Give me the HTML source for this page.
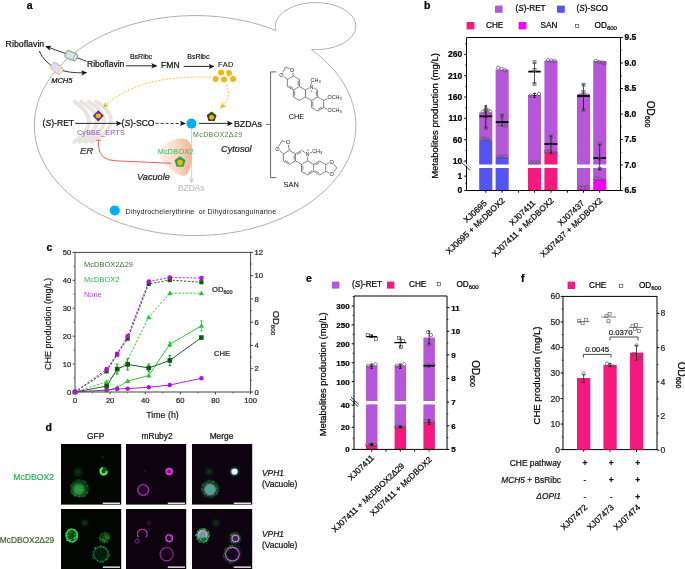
<!DOCTYPE html>
<html><head><meta charset="utf-8"><title>Figure</title>
<style>
html,body{margin:0;padding:0;background:#fff;width:685px;height:569px;overflow:hidden;}
svg{display:block;}
text{font-family:"Liberation Sans", Arial, sans-serif;}
</style></head><body>
<svg width="685" height="569" viewBox="0 0 685 569">
<defs>
<linearGradient id="vacg" x1="0" y1="0" x2="1" y2="0"><stop offset="0" stop-color="#fdf1ea"/><stop offset="0.5" stop-color="#f9dccb"/><stop offset="1" stop-color="#f2b492"/></linearGradient>
<marker id="ah" viewBox="0 0 10 10" refX="9" refY="5" markerWidth="6" markerHeight="6" orient="auto-start-reverse" markerUnits="userSpaceOnUse"><path d="M0,0.5 L10,5 L0,9.5 L2.5,5Z" fill="#111"/></marker>
<marker id="ahy" viewBox="0 0 10 10" refX="9" refY="5" markerWidth="6" markerHeight="6" orient="auto" markerUnits="userSpaceOnUse"><path d="M0,0.5 L10,5 L0,9.5 L2.5,5Z" fill="#f5b50e"/></marker>
<marker id="ahg" viewBox="0 0 10 10" refX="9" refY="5" markerWidth="5" markerHeight="5" orient="auto" markerUnits="userSpaceOnUse"><path d="M0,1 L9,5 L0,9" fill="none" stroke="#b5b5b5" stroke-width="1.4"/></marker>
</defs>
<text x="26.80" y="9.30" font-size="10.5" stroke="#000" stroke-width="0.22" font-weight="bold">a</text>
<path d="M311.4,49.6 A160.8,110 0 1,1 276,30.5 A40.3,23.6 0 1,1 311.4,49.6" fill="none" stroke="#9a9a9a" stroke-width="0.8"/>
<path d="M74.6,101.5 Q103.6,121.5 74.2,142" fill="none" stroke="#dcd8cf" stroke-width="3.4" stroke-linecap="round"/>
<path d="M81.2,101.5 Q113.7,121.5 79.4,142" fill="none" stroke="#dcd8cf" stroke-width="3.4" stroke-linecap="round"/>
<path d="M88.6,101.5 Q120.9,121.5 85.6,142" fill="none" stroke="#dcd8cf" stroke-width="3.4" stroke-linecap="round"/>
<path d="M96.1,101.5 Q128.1,121.5 91.7,142" fill="none" stroke="#dcd8cf" stroke-width="3.4" stroke-linecap="round"/>
<path d="M74.6,101.5 Q103.6,121.5 74.2,142" fill="none" stroke="#ebe8e2" stroke-width="2.4" stroke-linecap="round"/>
<path d="M81.2,101.5 Q113.7,121.5 79.4,142" fill="none" stroke="#ebe8e2" stroke-width="2.4" stroke-linecap="round"/>
<path d="M88.6,101.5 Q120.9,121.5 85.6,142" fill="none" stroke="#ebe8e2" stroke-width="2.4" stroke-linecap="round"/>
<path d="M96.1,101.5 Q128.1,121.5 91.7,142" fill="none" stroke="#ebe8e2" stroke-width="2.4" stroke-linecap="round"/>
<text x="5.60" y="47.00" font-size="8.8" stroke="#111" stroke-width="0.22" fill="#111">Riboflavin</text>
<path d="M86.5,61.3 Q66,53.5 45.8,46.4" fill="none" stroke="#222" stroke-width="0.9" marker-end="url(#ah)"/>
<path d="M39.2,51 Q50,75 86.5,72.6" fill="none" stroke="#222" stroke-width="0.9" marker-end="url(#ah)"/>
<g transform="translate(71.2,55.7) rotate(22)"><rect x="-6" y="-3.8" width="12" height="7.6" rx="2.2" fill="#d6e0f2" stroke="#5e9e3e" stroke-width="0.8"/><ellipse cx="4.6" cy="0" rx="1.5" ry="3.6" fill="#e8eef8" stroke="#5e9e3e" stroke-width="0.6"/></g>
<g transform="translate(56.8,68.2) rotate(38)"><rect x="-6" y="-3.9" width="12" height="7.8" rx="2.2" fill="#d6e0f2" stroke="#f3a577" stroke-width="0.8"/><ellipse cx="4.6" cy="0" rx="1.5" ry="3.7" fill="#e8eef8" stroke="#f3a577" stroke-width="0.6"/></g>
<text x="51.20" y="82.60" font-size="7.5" stroke="#111" stroke-width="0.22" fill="#111" font-style="italic">MCH5</text>
<text x="87.00" y="66.80" font-size="8.5" stroke="#111" stroke-width="0.22" fill="#111">Riboflavin</text>
<line x1="126.00" y1="65.80" x2="156.60" y2="65.80" stroke="#111" stroke-width="0.9" marker-end="url(#ah)"/>
<text x="141.00" y="59.00" font-size="7.0" text-anchor="middle" fill="#111" stroke="#111" stroke-width="0.18">BsRibc</text>
<text x="161.00" y="67.50" font-size="8.6" stroke="#111" stroke-width="0.22" fill="#111">FMN</text>
<line x1="183.60" y1="66.40" x2="214.00" y2="66.40" stroke="#111" stroke-width="0.9" marker-end="url(#ah)"/>
<text x="198.40" y="59.20" font-size="7.0" text-anchor="middle" fill="#111" stroke="#111" stroke-width="0.18">BsRibc</text>
<text x="218.00" y="66.80" font-size="7.3" fill="#111" letter-spacing="0.6" stroke="#111" stroke-width="0.12">FAD</text>
<circle cx="221.00" cy="72.40" r="3.00" fill="#f5b50e" />
<circle cx="229.00" cy="73.00" r="3.00" fill="#f5b50e" />
<circle cx="215.60" cy="79.00" r="3.00" fill="#f5b50e" />
<circle cx="224.00" cy="79.60" r="3.00" fill="#f5b50e" />
<circle cx="233.00" cy="79.00" r="3.00" fill="#f5b50e" />
<path d="M211,77.2 C168,75.5 128,83 103.4,107.4" fill="none" stroke="#f5b50e" stroke-width="0.8" stroke-dasharray="2,1.6" marker-end="url(#ahy)"/>
<path d="M226,84.5 C231,94 228,101 220.6,108" fill="none" stroke="#f5b50e" stroke-width="0.8" stroke-dasharray="2,1.6" marker-end="url(#ahy)"/>
<text x="42.60" y="126.20" font-size="8.6" stroke="#111" stroke-width="0.22" fill="#111">(<tspan font-style="italic">S</tspan>)-RET</text>
<line x1="75.20" y1="123.40" x2="121.30" y2="123.40" stroke="#111" stroke-width="0.9" marker-end="url(#ah)"/>
<path d="M98.3,110.2 L103.8,115.8 L98.3,121.4 L92.8,115.8Z" fill="#5a2a90"/>
<ellipse cx="98.3" cy="115.8" rx="2.7" ry="2.4" fill="#f5b50e"/>
<text x="121.60" y="125.60" font-size="8.6" stroke="#111" stroke-width="0.22" fill="#111">(<tspan font-style="italic">S</tspan>)-SCO</text>
<line x1="155.60" y1="123.40" x2="185.20" y2="123.40" stroke="#222" stroke-width="0.9" stroke-dasharray="3,2" marker-end="url(#ah)"/>
<circle cx="191.40" cy="123.60" r="5.00" fill="#05aeef" />
<line x1="199.00" y1="123.40" x2="232.20" y2="123.40" stroke="#111" stroke-width="0.9" marker-end="url(#ah)"/>
<text x="234.00" y="126.70" font-size="8.8" stroke="#111" stroke-width="0.22" fill="#111">BZDAs</text>
<polygon points="211.60,111.60 216.55,115.19 214.66,121.01 208.54,121.01 206.65,115.19" fill="#2f4a1f"/>
<circle cx="211.60" cy="117.30" r="2.40" fill="#f5b50e" />
<text x="193.00" y="136.50" font-size="7.0" fill="#4e7d36" letter-spacing="0.4">McDBOX2Δ29</text>
<text x="77.00" y="135.20" font-size="7.0" fill="#8650c0" letter-spacing="0.3">CyBBE_ERTS</text>
<text x="79.90" y="153.60" font-size="9.6" stroke="#333" stroke-width="0.22" fill="#333" font-style="italic">ER</text>
<path d="M181,138.5 C188.5,138 191.8,143 191.8,152 C191.8,162 190.5,172 186.5,175 C181.5,178 174,172.5 166,165.5 C160,160 156.5,153 160.5,148.5 C165.5,142.5 174,138.8 181,138.5Z" fill="url(#vacg)" />
<path d="M98.6,140.2 V146 Q99,160.5 116,160.8 L171,163.3" fill="none" stroke="#f04848" stroke-width="0.9" />
<line x1="96.20" y1="140.20" x2="101.00" y2="140.20" stroke="#ef4a4a" stroke-width="0.9" />
<text x="157.70" y="153.90" font-size="7.2" fill="#2ab85e" letter-spacing="0.3">McDBOX2</text>
<polygon points="180.00,156.20 185.52,160.21 183.41,166.69 176.59,166.69 174.48,160.21" fill="#1aaa4e"/>
<circle cx="180.00" cy="162.60" r="2.80" fill="#f5b50e" />
<text x="137.00" y="180.40" font-size="9.2" stroke="#222" stroke-width="0.22" fill="#222" font-style="italic">Vacuole</text>
<line x1="191.60" y1="128.80" x2="191.60" y2="182.50" stroke="#bdbdbd" stroke-width="0.7" marker-end="url(#ahg)"/>
<text x="178.00" y="190.60" font-size="8.4" stroke="#c4c4c4" stroke-width="0.22" fill="#c4c4c4">BZDAs</text>
<text x="221.00" y="152.00" font-size="9.2" stroke="#222" stroke-width="0.22" fill="#222" font-style="italic">Cytosol</text>
<path d="M276.2,71.9 H270.6 V177.6 H276.2 M270.6,124.4 H266" fill="none" stroke="#555" stroke-width="0.9"/>
<text x="296.50" y="119.30" font-size="7.4" text-anchor="middle">CHE</text>
<text x="291.20" y="187.30" font-size="7.4" text-anchor="middle">SAN</text>
<circle cx="114.80" cy="210.40" r="5.00" fill="#05aeef" />
<text x="125.60" y="213.80" font-size="7.1" fill="#222" letter-spacing="0.19">Dihydrochelerythrine&#160; or Dihydrosanguinarine</text>
<path d="M293.40,76.00 L299.46,79.50 M299.46,79.50 L299.46,86.50 M299.46,86.50 L293.40,90.00 M293.40,90.00 L287.34,86.50 M287.34,86.50 L287.34,79.50 M287.34,79.50 L293.40,76.00 M299.46,86.50 L305.52,90.00 M305.52,90.00 L305.52,97.00 M305.52,97.00 L299.46,100.50 M299.46,100.50 L293.40,97.00 M293.40,97.00 L293.40,90.00 M311.59,86.50 L317.65,90.00 M317.65,90.00 L317.65,97.00 M317.65,97.00 L311.59,100.50 M311.59,100.50 L305.52,97.00 M305.52,90.00 L311.59,86.50 M317.65,97.00 L323.71,100.50 M323.71,100.50 L323.71,107.50 M323.71,107.50 L317.65,111.00 M317.65,111.00 L311.59,107.50 M311.59,107.50 L311.59,100.50 M298.16,80.70 L298.16,85.30 M293.01,88.27 L289.03,85.97 M294.70,95.80 L294.70,91.20 M316.35,91.20 L316.35,95.80 M322.02,106.97 L318.04,109.27 M312.89,106.30 L312.89,101.70 M287.34,79.50 L281.44,74.50 M293.40,76.00 L291.90,69.60 M281.44,74.50 L285.50,67.00 M291.90,69.60 L285.50,67.00 M311.59,86.50 L311.59,82.50 M323.71,100.50 L327.71,98.20 M323.71,107.50 L327.71,109.80 " fill="none" stroke="#333" stroke-width="0.6"/>
<text x="281.44" y="76.50" font-size="5.6" text-anchor="middle" fill="#222" stroke="#fff" stroke-width="1.6" paint-order="stroke">O</text>
<text x="291.90" y="71.60" font-size="5.6" text-anchor="middle" fill="#222" stroke="#fff" stroke-width="1.6" paint-order="stroke">O</text>
<text x="311.59" y="88.50" font-size="5.6" text-anchor="middle" fill="#222" stroke="#fff" stroke-width="1.6" paint-order="stroke">N</text>
<text x="310.19" y="91.70" font-size="4.2" fill="#222">+</text>
<text x="310.59" y="81.90" font-size="5.4" fill="#222">CH<tspan font-size="4" dy="1">3</tspan></text>
<text x="327.51" y="99.30" font-size="5.4" fill="#222" stroke="#fff" stroke-width="1.2" paint-order="stroke">OCH<tspan font-size="4" dy="1">3</tspan></text>
<text x="327.51" y="111.90" font-size="5.4" fill="#222" stroke="#fff" stroke-width="1.2" paint-order="stroke">OCH<tspan font-size="4" dy="1">3</tspan></text>
<path d="M289.40,150.40 L295.46,153.90 M295.46,153.90 L295.46,160.90 M295.46,160.90 L289.40,164.40 M289.40,164.40 L283.34,160.90 M283.34,160.90 L283.34,153.90 M283.34,153.90 L289.40,150.40 M301.52,150.40 L307.59,153.90 M307.59,153.90 L307.59,160.90 M307.59,160.90 L301.52,164.40 M301.52,164.40 L295.46,160.90 M295.46,153.90 L301.52,150.40 M307.59,160.90 L313.65,164.40 M313.65,164.40 L313.65,171.40 M313.65,171.40 L307.59,174.90 M307.59,174.90 L301.52,171.40 M301.52,171.40 L301.52,164.40 M319.71,160.90 L325.77,164.40 M325.77,164.40 L325.77,171.40 M325.77,171.40 L319.71,174.90 M319.71,174.90 L313.65,171.40 M313.65,164.40 L319.71,160.90 M294.16,155.10 L294.16,159.70 M289.01,162.67 L285.03,160.37 M297.15,154.43 L301.14,152.13 M311.96,170.87 L307.98,173.17 M302.82,170.20 L302.82,165.60 M319.32,173.17 L315.34,170.87 M315.34,164.93 L319.32,162.63 M283.34,153.90 L277.34,148.70 M289.40,150.40 L287.90,142.40 M277.34,148.70 L282.00,140.80 M287.90,142.40 L282.00,140.80 M307.59,153.90 L311.79,152.30 M325.77,164.40 L331.57,161.80 M325.77,171.40 L331.57,174.00 M331.57,161.80 L336.90,167.90 M331.57,174.00 L336.90,167.90 " fill="none" stroke="#333" stroke-width="0.6"/>
<text x="277.34" y="150.70" font-size="5.6" text-anchor="middle" fill="#222" stroke="#fff" stroke-width="1.6" paint-order="stroke">O</text>
<text x="287.90" y="144.40" font-size="5.6" text-anchor="middle" fill="#222" stroke="#fff" stroke-width="1.6" paint-order="stroke">O</text>
<text x="331.57" y="163.80" font-size="5.6" text-anchor="middle" fill="#222" stroke="#fff" stroke-width="1.6" paint-order="stroke">O</text>
<text x="331.57" y="176.00" font-size="5.6" text-anchor="middle" fill="#222" stroke="#fff" stroke-width="1.6" paint-order="stroke">O</text>
<text x="307.59" y="155.90" font-size="5.6" text-anchor="middle" fill="#222" stroke="#fff" stroke-width="1.6" paint-order="stroke">N</text>
<text x="306.79" y="151.30" font-size="4.2" fill="#222">+</text>
<text x="312.19" y="153.30" font-size="5.4" fill="#222">CH<tspan font-size="4" dy="1">3</tspan></text>
<text x="424.00" y="8.60" font-size="10.5" stroke="#000" stroke-width="0.22" font-weight="bold">b</text>
<rect x="495.00" y="5.60" width="7.60" height="7.20" fill="#b557d8" />
<text x="515.60" y="11.10" font-size="8.2" stroke="#000" stroke-width="0.22">(<tspan font-style="italic">S</tspan>)-RET</text>
<rect x="557.00" y="5.60" width="7.80" height="7.20" fill="#5454f2" />
<text x="576.60" y="11.10" font-size="8.2" stroke="#000" stroke-width="0.22">(<tspan font-style="italic">S</tspan>)-SCO</text>
<rect x="466.60" y="22.00" width="7.80" height="7.40" fill="#f5187f" />
<text x="486.00" y="27.90" font-size="8.2" stroke="#000" stroke-width="0.22">CHE</text>
<rect x="518.60" y="22.00" width="7.80" height="7.40" fill="#fb00fb" />
<text x="540.60" y="27.90" font-size="8.2" stroke="#000" stroke-width="0.22">SAN</text>
<rect x="575.6" y="24.3" width="3.2" height="3.2" fill="none" stroke="#333" stroke-width="0.6"/>
<text x="594.60" y="27.90" font-size="8.2" stroke="#000" stroke-width="0.22">OD<tspan font-size="6" dy="2">600</tspan></text>
<rect x="479.20" y="168.00" width="13.10" height="22.50" fill="#5454f2" />
<rect x="479.20" y="140.00" width="13.10" height="24.50" fill="#5454f2" />
<rect x="479.20" y="112.40" width="13.10" height="27.60" fill="#b557d8" />
<rect x="495.60" y="168.00" width="13.10" height="22.50" fill="#5454f2" />
<rect x="495.60" y="157.00" width="13.10" height="7.50" fill="#5454f2" />
<rect x="495.60" y="69.60" width="13.10" height="87.40" fill="#b557d8" />
<rect x="528.00" y="168.00" width="13.10" height="22.50" fill="#f5187f" />
<rect x="528.00" y="95.00" width="13.10" height="69.50" fill="#b557d8" />
<rect x="544.40" y="168.00" width="13.10" height="22.50" fill="#f5187f" />
<rect x="544.40" y="152.00" width="13.10" height="12.50" fill="#f5187f" />
<rect x="544.40" y="60.60" width="13.10" height="91.40" fill="#b557d8" />
<rect x="577.00" y="168.00" width="13.10" height="20.60" fill="#b557d8" />
<rect x="577.00" y="188.60" width="13.10" height="1.90" fill="#fb00fb" />
<rect x="577.00" y="94.40" width="13.10" height="70.10" fill="#b557d8" />
<rect x="593.20" y="168.00" width="13.10" height="10.50" fill="#b557d8" />
<rect x="593.20" y="178.50" width="13.10" height="12.00" fill="#fb00fb" />
<rect x="593.20" y="61.00" width="13.10" height="103.50" fill="#b557d8" />
<path d="M466.5,164.8 V190.5 H620.5 V37.5 H466.5 V167.7" fill="none" stroke="#000" stroke-width="1"/>
<path d="M461.8,162.6 L470.2,170.4 M462.8,160.8 L471.2,168.6" stroke="#000" stroke-width="0.8" fill="none"/>
<path d="M462.6,162.3 L470.8,169.6 L471.2,168.6 L462.8,160.8Z" fill="#fff" stroke="none"/>
<line x1="464.20" y1="161.00" x2="466.50" y2="161.00" stroke="#000" stroke-width="1" />
<text x="462.20" y="163.90" font-size="8.5" stroke="#000" stroke-width="0.22" text-anchor="end" font-weight="bold">10</text>
<line x1="464.20" y1="139.68" x2="466.50" y2="139.68" stroke="#000" stroke-width="1" />
<text x="462.20" y="142.58" font-size="8.5" stroke="#000" stroke-width="0.22" text-anchor="end" font-weight="bold">60</text>
<line x1="464.20" y1="118.36" x2="466.50" y2="118.36" stroke="#000" stroke-width="1" />
<text x="462.20" y="121.26" font-size="8.5" stroke="#000" stroke-width="0.22" text-anchor="end" font-weight="bold">110</text>
<line x1="464.20" y1="97.04" x2="466.50" y2="97.04" stroke="#000" stroke-width="1" />
<text x="462.20" y="99.94" font-size="8.5" stroke="#000" stroke-width="0.22" text-anchor="end" font-weight="bold">160</text>
<line x1="464.20" y1="75.72" x2="466.50" y2="75.72" stroke="#000" stroke-width="1" />
<text x="462.20" y="78.62" font-size="8.5" stroke="#000" stroke-width="0.22" text-anchor="end" font-weight="bold">210</text>
<line x1="464.20" y1="54.40" x2="466.50" y2="54.40" stroke="#000" stroke-width="1" />
<text x="462.20" y="57.30" font-size="8.5" stroke="#000" stroke-width="0.22" text-anchor="end" font-weight="bold">260</text>
<line x1="465.20" y1="150.34" x2="466.50" y2="150.34" stroke="#000" stroke-width="0.8" />
<line x1="465.20" y1="129.02" x2="466.50" y2="129.02" stroke="#000" stroke-width="0.8" />
<line x1="465.20" y1="107.70" x2="466.50" y2="107.70" stroke="#000" stroke-width="0.8" />
<line x1="465.20" y1="86.38" x2="466.50" y2="86.38" stroke="#000" stroke-width="0.8" />
<line x1="465.20" y1="65.06" x2="466.50" y2="65.06" stroke="#000" stroke-width="0.8" />
<line x1="465.20" y1="43.74" x2="466.50" y2="43.74" stroke="#000" stroke-width="0.8" />
<line x1="464.20" y1="190.50" x2="466.50" y2="190.50" stroke="#000" stroke-width="1" />
<text x="462.20" y="193.40" font-size="8.5" stroke="#000" stroke-width="0.22" text-anchor="end" font-weight="bold">0</text>
<line x1="464.20" y1="176.10" x2="466.50" y2="176.10" stroke="#000" stroke-width="1" />
<text x="462.20" y="179.00" font-size="8.5" stroke="#000" stroke-width="0.22" text-anchor="end" font-weight="bold">1</text>
<line x1="465.20" y1="183.30" x2="466.50" y2="183.30" stroke="#000" stroke-width="0.8" />
<line x1="620.50" y1="190.50" x2="622.80" y2="190.50" stroke="#000" stroke-width="1" />
<text x="624.50" y="193.40" font-size="8.5" stroke="#000" stroke-width="0.22" font-weight="bold">6.5</text>
<line x1="620.50" y1="165.00" x2="622.80" y2="165.00" stroke="#000" stroke-width="1" />
<text x="624.50" y="167.90" font-size="8.5" stroke="#000" stroke-width="0.22" font-weight="bold">7.0</text>
<line x1="620.50" y1="139.50" x2="622.80" y2="139.50" stroke="#000" stroke-width="1" />
<text x="624.50" y="142.40" font-size="8.5" stroke="#000" stroke-width="0.22" font-weight="bold">7.5</text>
<line x1="620.50" y1="114.00" x2="622.80" y2="114.00" stroke="#000" stroke-width="1" />
<text x="624.50" y="116.90" font-size="8.5" stroke="#000" stroke-width="0.22" font-weight="bold">8.0</text>
<line x1="620.50" y1="88.50" x2="622.80" y2="88.50" stroke="#000" stroke-width="1" />
<text x="624.50" y="91.40" font-size="8.5" stroke="#000" stroke-width="0.22" font-weight="bold">8.5</text>
<line x1="620.50" y1="63.00" x2="622.80" y2="63.00" stroke="#000" stroke-width="1" />
<text x="624.50" y="65.90" font-size="8.5" stroke="#000" stroke-width="0.22" font-weight="bold">9.0</text>
<line x1="620.50" y1="37.50" x2="622.80" y2="37.50" stroke="#000" stroke-width="1" />
<text x="624.50" y="40.40" font-size="8.5" stroke="#000" stroke-width="0.22" font-weight="bold">9.5</text>
<line x1="620.50" y1="177.75" x2="621.80" y2="177.75" stroke="#000" stroke-width="0.8" />
<line x1="620.50" y1="152.25" x2="621.80" y2="152.25" stroke="#000" stroke-width="0.8" />
<line x1="620.50" y1="126.75" x2="621.80" y2="126.75" stroke="#000" stroke-width="0.8" />
<line x1="620.50" y1="101.25" x2="621.80" y2="101.25" stroke="#000" stroke-width="0.8" />
<line x1="620.50" y1="75.75" x2="621.80" y2="75.75" stroke="#000" stroke-width="0.8" />
<line x1="620.50" y1="50.25" x2="621.80" y2="50.25" stroke="#000" stroke-width="0.8" />
<line x1="485.80" y1="190.50" x2="485.80" y2="192.70" stroke="#000" stroke-width="1" />
<line x1="502.10" y1="190.50" x2="502.10" y2="192.70" stroke="#000" stroke-width="1" />
<line x1="518.50" y1="190.50" x2="518.50" y2="192.70" stroke="#000" stroke-width="1" />
<line x1="534.50" y1="190.50" x2="534.50" y2="192.70" stroke="#000" stroke-width="1" />
<line x1="551.00" y1="190.50" x2="551.00" y2="192.70" stroke="#000" stroke-width="1" />
<line x1="567.40" y1="190.50" x2="567.40" y2="192.70" stroke="#000" stroke-width="1" />
<line x1="583.50" y1="190.50" x2="583.50" y2="192.70" stroke="#000" stroke-width="1" />
<line x1="599.70" y1="190.50" x2="599.70" y2="192.70" stroke="#000" stroke-width="1" />
<text transform="translate(437.60,116.00) rotate(-90)" font-size="9.5" stroke="#000" stroke-width="0.22" text-anchor="middle">Metabolites production (mg/L)</text>
<text transform="translate(647.00,114.00) rotate(90)" font-size="10" stroke="#000" stroke-width="0.22" text-anchor="middle">OD<tspan font-size="7" dy="2">600</tspan></text>
<text transform="translate(487.30,203.80) rotate(-43.5)" font-size="8.4" stroke="#000" stroke-width="0.22" text-anchor="end">XJ0695</text>
<text transform="translate(505.50,201.30) rotate(-43.5)" font-size="8.4" stroke="#000" stroke-width="0.22" text-anchor="end">XJ0695 + McDBOX2</text>
<text transform="translate(536.00,203.80) rotate(-43.5)" font-size="8.4" stroke="#000" stroke-width="0.22" text-anchor="end">XJ07411</text>
<text transform="translate(554.40,201.30) rotate(-43.5)" font-size="8.4" stroke="#000" stroke-width="0.22" text-anchor="end">XJ07411 + McDBOX2</text>
<text transform="translate(585.00,203.80) rotate(-43.5)" font-size="8.4" stroke="#000" stroke-width="0.22" text-anchor="end">XJ07437</text>
<text transform="translate(603.10,201.30) rotate(-43.5)" font-size="8.4" stroke="#000" stroke-width="0.22" text-anchor="end">XJ07437 + McDBOX2</text>
<line x1="485.80" y1="106.00" x2="485.80" y2="117.50" stroke="#000" stroke-width="0.7" />
<line x1="484.60" y1="106.00" x2="487.00" y2="106.00" stroke="#000" stroke-width="0.7" />
<line x1="484.60" y1="117.50" x2="487.00" y2="117.50" stroke="#000" stroke-width="0.7" />
<line x1="484.30" y1="112.00" x2="487.30" y2="112.00" stroke="#000" stroke-width="0.8" />
<circle cx="482.80" cy="111.50" r="1.70" fill="none" stroke="#555" stroke-width="0.7" />
<circle cx="485.30" cy="110.80" r="1.70" fill="none" stroke="#555" stroke-width="0.7" />
<circle cx="487.80" cy="110.20" r="1.70" fill="none" stroke="#555" stroke-width="0.7" />
<circle cx="490.00" cy="111.50" r="1.70" fill="none" stroke="#555" stroke-width="0.7" />
<circle cx="482.80" cy="138.30" r="1.70" fill="none" stroke="#555" stroke-width="0.7" />
<circle cx="485.30" cy="139.20" r="1.70" fill="none" stroke="#555" stroke-width="0.7" />
<circle cx="487.80" cy="140.00" r="1.70" fill="none" stroke="#555" stroke-width="0.7" />
<line x1="485.80" y1="106.00" x2="485.80" y2="128.00" stroke="#000" stroke-width="0.7" />
<line x1="484.60" y1="106.00" x2="487.00" y2="106.00" stroke="#000" stroke-width="0.7" />
<line x1="484.60" y1="128.00" x2="487.00" y2="128.00" stroke="#000" stroke-width="0.7" />
<line x1="479.40" y1="116.30" x2="492.20" y2="116.30" stroke="#000" stroke-width="1.8" />
<rect x="484.30" y="126.50" width="3.0" height="3.0" fill="none" stroke="#555" stroke-width="0.7"/>
<rect x="484.30" y="108.00" width="3.0" height="3.0" fill="none" stroke="#555" stroke-width="0.7"/>
<circle cx="498.10" cy="67.70" r="1.70" fill="none" stroke="#555" stroke-width="0.7" />
<circle cx="501.60" cy="69.00" r="1.70" fill="none" stroke="#555" stroke-width="0.7" />
<circle cx="505.10" cy="70.30" r="1.70" fill="none" stroke="#555" stroke-width="0.7" />
<circle cx="498.60" cy="156.60" r="1.70" fill="none" stroke="#555" stroke-width="0.7" />
<circle cx="502.10" cy="156.60" r="1.70" fill="none" stroke="#555" stroke-width="0.7" />
<circle cx="505.60" cy="156.60" r="1.70" fill="none" stroke="#555" stroke-width="0.7" />
<line x1="502.10" y1="114.50" x2="502.10" y2="126.00" stroke="#000" stroke-width="0.7" />
<line x1="500.90" y1="114.50" x2="503.30" y2="114.50" stroke="#000" stroke-width="0.7" />
<line x1="500.90" y1="126.00" x2="503.30" y2="126.00" stroke="#000" stroke-width="0.7" />
<line x1="495.80" y1="122.10" x2="508.40" y2="122.10" stroke="#000" stroke-width="1.8" />
<rect x="500.60" y="114.20" width="3.0" height="3.0" fill="none" stroke="#555" stroke-width="0.7"/>
<rect x="498.60" y="123.00" width="3.0" height="3.0" fill="none" stroke="#555" stroke-width="0.7"/>
<rect x="504.20" y="124.00" width="3.0" height="3.0" fill="none" stroke="#555" stroke-width="0.7"/>
<circle cx="530.50" cy="95.60" r="1.70" fill="none" stroke="#555" stroke-width="0.7" />
<circle cx="534.50" cy="94.60" r="1.70" fill="none" stroke="#555" stroke-width="0.7" />
<circle cx="539.00" cy="94.00" r="1.70" fill="none" stroke="#555" stroke-width="0.7" />
<line x1="534.50" y1="93.50" x2="534.50" y2="97.50" stroke="#000" stroke-width="0.7" />
<line x1="533.30" y1="93.50" x2="535.70" y2="93.50" stroke="#000" stroke-width="0.7" />
<line x1="533.30" y1="97.50" x2="535.70" y2="97.50" stroke="#000" stroke-width="0.7" />
<line x1="533.30" y1="95.40" x2="535.70" y2="95.40" stroke="#000" stroke-width="0.8" />
<circle cx="531.00" cy="162.50" r="1.70" fill="none" stroke="#555" stroke-width="0.7" />
<circle cx="534.50" cy="162.50" r="1.70" fill="none" stroke="#555" stroke-width="0.7" />
<circle cx="538.00" cy="162.50" r="1.70" fill="none" stroke="#555" stroke-width="0.7" />
<line x1="534.50" y1="62.20" x2="534.50" y2="83.80" stroke="#000" stroke-width="0.7" />
<line x1="533.30" y1="62.20" x2="535.70" y2="62.20" stroke="#000" stroke-width="0.7" />
<line x1="533.30" y1="83.80" x2="535.70" y2="83.80" stroke="#000" stroke-width="0.7" />
<line x1="528.30" y1="71.60" x2="540.70" y2="71.60" stroke="#000" stroke-width="1.8" />
<rect x="533.00" y="60.70" width="3.0" height="3.0" fill="none" stroke="#555" stroke-width="0.7"/>
<rect x="533.00" y="68.50" width="3.0" height="3.0" fill="none" stroke="#555" stroke-width="0.7"/>
<rect x="533.00" y="82.30" width="3.0" height="3.0" fill="none" stroke="#555" stroke-width="0.7"/>
<circle cx="548.00" cy="60.20" r="1.70" fill="none" stroke="#555" stroke-width="0.7" />
<circle cx="551.50" cy="60.60" r="1.70" fill="none" stroke="#555" stroke-width="0.7" />
<circle cx="554.50" cy="61.00" r="1.70" fill="none" stroke="#555" stroke-width="0.7" />
<circle cx="546.00" cy="151.40" r="1.70" fill="none" stroke="#555" stroke-width="0.7" />
<circle cx="549.00" cy="152.00" r="1.70" fill="none" stroke="#555" stroke-width="0.7" />
<circle cx="552.00" cy="152.60" r="1.70" fill="none" stroke="#555" stroke-width="0.7" />
<circle cx="555.50" cy="152.80" r="1.70" fill="none" stroke="#555" stroke-width="0.7" />
<line x1="551.00" y1="136.00" x2="551.00" y2="153.00" stroke="#000" stroke-width="0.7" />
<line x1="549.80" y1="136.00" x2="552.20" y2="136.00" stroke="#000" stroke-width="0.7" />
<line x1="549.80" y1="153.00" x2="552.20" y2="153.00" stroke="#000" stroke-width="0.7" />
<line x1="544.50" y1="144.00" x2="557.50" y2="144.00" stroke="#000" stroke-width="1.8" />
<rect x="549.50" y="135.00" width="3.0" height="3.0" fill="none" stroke="#555" stroke-width="0.7"/>
<rect x="549.50" y="142.00" width="3.0" height="3.0" fill="none" stroke="#555" stroke-width="0.7"/>
<circle cx="580.00" cy="95.50" r="1.70" fill="none" stroke="#555" stroke-width="0.7" />
<circle cx="583.50" cy="94.00" r="1.70" fill="none" stroke="#555" stroke-width="0.7" />
<circle cx="587.50" cy="95.50" r="1.70" fill="none" stroke="#555" stroke-width="0.7" />
<line x1="583.50" y1="84.50" x2="583.50" y2="110.00" stroke="#000" stroke-width="0.7" />
<line x1="582.30" y1="84.50" x2="584.70" y2="84.50" stroke="#000" stroke-width="0.7" />
<line x1="582.30" y1="110.00" x2="584.70" y2="110.00" stroke="#000" stroke-width="0.7" />
<line x1="577.10" y1="96.00" x2="589.90" y2="96.00" stroke="#000" stroke-width="1.8" />
<rect x="582.00" y="83.20" width="3.0" height="3.0" fill="none" stroke="#555" stroke-width="0.7"/>
<rect x="582.00" y="90.50" width="3.0" height="3.0" fill="none" stroke="#555" stroke-width="0.7"/>
<rect x="582.00" y="108.50" width="3.0" height="3.0" fill="none" stroke="#555" stroke-width="0.7"/>
<circle cx="580.00" cy="187.20" r="1.70" fill="none" stroke="#555" stroke-width="0.7" />
<circle cx="583.50" cy="187.20" r="1.70" fill="none" stroke="#555" stroke-width="0.7" />
<circle cx="587.00" cy="187.20" r="1.70" fill="none" stroke="#555" stroke-width="0.7" />
<circle cx="595.70" cy="61.00" r="1.70" fill="none" stroke="#555" stroke-width="0.7" />
<circle cx="599.20" cy="62.00" r="1.70" fill="none" stroke="#555" stroke-width="0.7" />
<circle cx="602.70" cy="62.60" r="1.70" fill="none" stroke="#555" stroke-width="0.7" />
<circle cx="604.70" cy="63.40" r="1.70" fill="none" stroke="#555" stroke-width="0.7" />
<line x1="599.70" y1="144.40" x2="599.70" y2="169.50" stroke="#000" stroke-width="0.7" />
<line x1="598.50" y1="144.40" x2="600.90" y2="144.40" stroke="#000" stroke-width="0.7" />
<line x1="598.50" y1="169.50" x2="600.90" y2="169.50" stroke="#000" stroke-width="0.7" />
<line x1="593.40" y1="158.00" x2="606.00" y2="158.00" stroke="#000" stroke-width="1.8" />
<rect x="598.20" y="142.90" width="3.0" height="3.0" fill="none" stroke="#555" stroke-width="0.7"/>
<rect x="598.20" y="157.50" width="3.0" height="3.0" fill="none" stroke="#555" stroke-width="0.7"/>
<rect x="598.20" y="167.50" width="3.0" height="3.0" fill="none" stroke="#555" stroke-width="0.7"/>
<circle cx="596.20" cy="178.30" r="1.70" fill="none" stroke="#555" stroke-width="0.7" />
<circle cx="599.70" cy="179.00" r="1.70" fill="none" stroke="#555" stroke-width="0.7" />
<circle cx="603.70" cy="180.00" r="1.70" fill="none" stroke="#555" stroke-width="0.7" />
<text x="46.40" y="251.20" font-size="10.5" stroke="#000" stroke-width="0.22" font-weight="bold">c</text>
<rect x="75.0" y="252.4" width="175.6" height="139.6" fill="none" stroke="#444" stroke-width="1"/>
<line x1="72.60" y1="392.00" x2="75.00" y2="392.00" stroke="#444" stroke-width="1" />
<text x="71.20" y="394.70" font-size="7.6" stroke="#222" stroke-width="0.22" text-anchor="end" fill="#222">0</text>
<line x1="72.60" y1="364.08" x2="75.00" y2="364.08" stroke="#444" stroke-width="1" />
<text x="71.20" y="366.78" font-size="7.6" stroke="#222" stroke-width="0.22" text-anchor="end" fill="#222">10</text>
<line x1="72.60" y1="336.16" x2="75.00" y2="336.16" stroke="#444" stroke-width="1" />
<text x="71.20" y="338.86" font-size="7.6" stroke="#222" stroke-width="0.22" text-anchor="end" fill="#222">20</text>
<line x1="72.60" y1="308.24" x2="75.00" y2="308.24" stroke="#444" stroke-width="1" />
<text x="71.20" y="310.94" font-size="7.6" stroke="#222" stroke-width="0.22" text-anchor="end" fill="#222">30</text>
<line x1="72.60" y1="280.32" x2="75.00" y2="280.32" stroke="#444" stroke-width="1" />
<text x="71.20" y="283.02" font-size="7.6" stroke="#222" stroke-width="0.22" text-anchor="end" fill="#222">40</text>
<line x1="72.60" y1="252.40" x2="75.00" y2="252.40" stroke="#444" stroke-width="1" />
<text x="71.20" y="255.10" font-size="7.6" stroke="#222" stroke-width="0.22" text-anchor="end" fill="#222">50</text>
<line x1="73.60" y1="378.04" x2="75.00" y2="378.04" stroke="#444" stroke-width="0.8" />
<line x1="73.60" y1="350.12" x2="75.00" y2="350.12" stroke="#444" stroke-width="0.8" />
<line x1="73.60" y1="322.20" x2="75.00" y2="322.20" stroke="#444" stroke-width="0.8" />
<line x1="73.60" y1="294.28" x2="75.00" y2="294.28" stroke="#444" stroke-width="0.8" />
<line x1="73.60" y1="266.36" x2="75.00" y2="266.36" stroke="#444" stroke-width="0.8" />
<line x1="250.60" y1="392.00" x2="253.00" y2="392.00" stroke="#444" stroke-width="1" />
<text x="254.50" y="394.70" font-size="7.6" stroke="#222" stroke-width="0.22" fill="#222">0</text>
<line x1="250.60" y1="368.73" x2="253.00" y2="368.73" stroke="#444" stroke-width="1" />
<text x="254.50" y="371.43" font-size="7.6" stroke="#222" stroke-width="0.22" fill="#222">2</text>
<line x1="250.60" y1="345.47" x2="253.00" y2="345.47" stroke="#444" stroke-width="1" />
<text x="254.50" y="348.17" font-size="7.6" stroke="#222" stroke-width="0.22" fill="#222">4</text>
<line x1="250.60" y1="322.20" x2="253.00" y2="322.20" stroke="#444" stroke-width="1" />
<text x="254.50" y="324.90" font-size="7.6" stroke="#222" stroke-width="0.22" fill="#222">6</text>
<line x1="250.60" y1="298.93" x2="253.00" y2="298.93" stroke="#444" stroke-width="1" />
<text x="254.50" y="301.63" font-size="7.6" stroke="#222" stroke-width="0.22" fill="#222">8</text>
<line x1="250.60" y1="275.67" x2="253.00" y2="275.67" stroke="#444" stroke-width="1" />
<text x="254.50" y="278.37" font-size="7.6" stroke="#222" stroke-width="0.22" fill="#222">10</text>
<line x1="250.60" y1="252.40" x2="253.00" y2="252.40" stroke="#444" stroke-width="1" />
<text x="254.50" y="255.10" font-size="7.6" stroke="#222" stroke-width="0.22" fill="#222">12</text>
<line x1="250.60" y1="380.37" x2="252.00" y2="380.37" stroke="#444" stroke-width="0.8" />
<line x1="250.60" y1="357.10" x2="252.00" y2="357.10" stroke="#444" stroke-width="0.8" />
<line x1="250.60" y1="333.83" x2="252.00" y2="333.83" stroke="#444" stroke-width="0.8" />
<line x1="250.60" y1="310.57" x2="252.00" y2="310.57" stroke="#444" stroke-width="0.8" />
<line x1="250.60" y1="287.30" x2="252.00" y2="287.30" stroke="#444" stroke-width="0.8" />
<line x1="250.60" y1="264.03" x2="252.00" y2="264.03" stroke="#444" stroke-width="0.8" />
<line x1="75.00" y1="392.00" x2="75.00" y2="394.40" stroke="#444" stroke-width="1" />
<text x="75.00" y="402.90" font-size="7.6" stroke="#222" stroke-width="0.22" text-anchor="middle" fill="#222">0</text>
<line x1="110.11" y1="392.00" x2="110.11" y2="394.40" stroke="#444" stroke-width="1" />
<text x="110.11" y="402.90" font-size="7.6" stroke="#222" stroke-width="0.22" text-anchor="middle" fill="#222">20</text>
<line x1="145.22" y1="392.00" x2="145.22" y2="394.40" stroke="#444" stroke-width="1" />
<text x="145.22" y="402.90" font-size="7.6" stroke="#222" stroke-width="0.22" text-anchor="middle" fill="#222">40</text>
<line x1="180.34" y1="392.00" x2="180.34" y2="394.40" stroke="#444" stroke-width="1" />
<text x="180.34" y="402.90" font-size="7.6" stroke="#222" stroke-width="0.22" text-anchor="middle" fill="#222">60</text>
<line x1="215.45" y1="392.00" x2="215.45" y2="394.40" stroke="#444" stroke-width="1" />
<text x="215.45" y="402.90" font-size="7.6" stroke="#222" stroke-width="0.22" text-anchor="middle" fill="#222">80</text>
<line x1="250.56" y1="392.00" x2="250.56" y2="394.40" stroke="#444" stroke-width="1" />
<text x="250.56" y="402.90" font-size="7.6" stroke="#222" stroke-width="0.22" text-anchor="middle" fill="#222">100</text>
<line x1="92.56" y1="392.00" x2="92.56" y2="393.40" stroke="#444" stroke-width="0.8" />
<line x1="127.67" y1="392.00" x2="127.67" y2="393.40" stroke="#444" stroke-width="0.8" />
<line x1="162.78" y1="392.00" x2="162.78" y2="393.40" stroke="#444" stroke-width="0.8" />
<line x1="197.89" y1="392.00" x2="197.89" y2="393.40" stroke="#444" stroke-width="0.8" />
<line x1="233.00" y1="392.00" x2="233.00" y2="393.40" stroke="#444" stroke-width="0.8" />
<text x="162.50" y="418.20" font-size="8.8" stroke="#222" stroke-width="0.22" text-anchor="middle" fill="#222">Time (h)</text>
<text transform="translate(50.80,324.00) rotate(-90)" font-size="9.0" stroke="#222" stroke-width="0.22" text-anchor="middle" fill="#222">CHE production (mg/L)</text>
<text transform="translate(272.60,323.00) rotate(90)" font-size="9.4" stroke="#222" stroke-width="0.22" text-anchor="middle" fill="#222">OD<tspan font-size="6.2" dy="2">600</tspan></text>
<text x="84.00" y="267.00" font-size="7.4" fill="#3d6b2a" letter-spacing="0.1">McDBOX2Δ29</text>
<text x="84.00" y="282.30" font-size="7.4" fill="#22b84a" letter-spacing="0.1">McDBOX2</text>
<text x="84.00" y="297.30" font-size="7.4" fill="#cc33ee">None</text>
<text x="212.00" y="292.20" font-size="7.6" stroke="#222" stroke-width="0.22" fill="#222">OD<tspan font-size="5.5" dy="1.5">600</tspan></text>
<text x="214.00" y="356.00" font-size="7.6" stroke="#222" stroke-width="0.22" fill="#222">CHE</text>
<polyline points="75.00,392.00 106.60,381.95 117.13,372.46 127.67,359.89 148.74,317.17 169.80,293.16 201.40,293.16" fill="none" stroke="#1ec81e" stroke-width="0.95" stroke-dasharray="2.2,1.6"/>
<polyline points="75.00,392.00 106.60,371.34 117.13,354.59 127.67,338.67 148.74,283.95 169.80,280.04 201.40,282.27" fill="none" stroke="#0b5c0b" stroke-width="0.95" stroke-dasharray="2.2,1.6"/>
<polyline points="75.00,392.00 106.60,369.11 117.13,353.75 127.67,336.16 148.74,281.44 169.80,277.53 201.40,278.09" fill="none" stroke="#b40ee6" stroke-width="0.95" stroke-dasharray="2.2,1.6"/>
<polyline points="75.00,392.00 106.60,390.60 117.13,387.53 127.67,381.11 148.74,375.53 169.80,344.26 201.40,325.83" fill="none" stroke="#1ec81e" stroke-width="0.95"/>
<polyline points="75.00,392.00 106.60,386.14 117.13,369.11 127.67,364.36 148.74,367.99 169.80,360.45 201.40,337.56" fill="none" stroke="#0b5c0b" stroke-width="0.95"/>
<polyline points="75.00,392.00 106.60,390.05 117.13,388.93 127.67,388.65 148.74,387.25 169.80,385.02 201.40,378.32" fill="none" stroke="#b40ee6" stroke-width="0.95"/>
<line x1="117.13" y1="364.08" x2="117.13" y2="374.13" stroke="#0b5c0b" stroke-width="0.8" />
<line x1="115.83" y1="364.08" x2="118.43" y2="364.08" stroke="#0b5c0b" stroke-width="0.8" />
<line x1="115.83" y1="374.13" x2="118.43" y2="374.13" stroke="#0b5c0b" stroke-width="0.8" />
<line x1="127.67" y1="358.78" x2="127.67" y2="369.94" stroke="#0b5c0b" stroke-width="0.8" />
<line x1="126.37" y1="358.78" x2="128.97" y2="358.78" stroke="#0b5c0b" stroke-width="0.8" />
<line x1="126.37" y1="369.94" x2="128.97" y2="369.94" stroke="#0b5c0b" stroke-width="0.8" />
<line x1="148.74" y1="364.08" x2="148.74" y2="371.90" stroke="#0b5c0b" stroke-width="0.8" />
<line x1="147.44" y1="364.08" x2="150.04" y2="364.08" stroke="#0b5c0b" stroke-width="0.8" />
<line x1="147.44" y1="371.90" x2="150.04" y2="371.90" stroke="#0b5c0b" stroke-width="0.8" />
<line x1="169.80" y1="355.42" x2="169.80" y2="365.48" stroke="#0b5c0b" stroke-width="0.8" />
<line x1="168.50" y1="355.42" x2="171.10" y2="355.42" stroke="#0b5c0b" stroke-width="0.8" />
<line x1="168.50" y1="365.48" x2="171.10" y2="365.48" stroke="#0b5c0b" stroke-width="0.8" />
<line x1="201.40" y1="320.80" x2="201.40" y2="330.86" stroke="#1ec81e" stroke-width="0.8" />
<line x1="200.10" y1="320.80" x2="202.70" y2="320.80" stroke="#1ec81e" stroke-width="0.8" />
<line x1="200.10" y1="330.86" x2="202.70" y2="330.86" stroke="#1ec81e" stroke-width="0.8" />
<line x1="169.80" y1="342.02" x2="169.80" y2="346.49" stroke="#1ec81e" stroke-width="0.8" />
<line x1="168.50" y1="342.02" x2="171.10" y2="342.02" stroke="#1ec81e" stroke-width="0.8" />
<line x1="168.50" y1="346.49" x2="171.10" y2="346.49" stroke="#1ec81e" stroke-width="0.8" />
<path d="M75.00,389.25 L77.53,393.98 L72.47,393.98Z" fill="#1ec81e"/>
<path d="M106.60,379.20 L109.13,383.93 L104.07,383.93Z" fill="#1ec81e"/>
<path d="M148.74,314.42 L151.27,319.15 L146.21,319.15Z" fill="#1ec81e"/>
<path d="M169.80,290.41 L172.33,295.14 L167.27,295.14Z" fill="#1ec81e"/>
<path d="M201.40,290.41 L203.93,295.14 L198.87,295.14Z" fill="#1ec81e"/>
<path d="M75.00,389.25 L77.53,393.98 L72.47,393.98Z" fill="#1ec81e"/>
<path d="M106.60,387.85 L109.13,392.58 L104.07,392.58Z" fill="#1ec81e"/>
<path d="M117.13,384.78 L119.66,389.51 L114.60,389.51Z" fill="#1ec81e"/>
<path d="M127.67,378.36 L130.20,383.09 L125.14,383.09Z" fill="#1ec81e"/>
<path d="M148.74,372.78 L151.27,377.51 L146.21,377.51Z" fill="#1ec81e"/>
<path d="M169.80,341.51 L172.33,346.24 L167.27,346.24Z" fill="#1ec81e"/>
<path d="M201.40,323.08 L203.93,327.81 L198.87,327.81Z" fill="#1ec81e"/>
<rect x="72.90" y="389.90" width="4.20" height="4.20" fill="#0b5c0b" />
<rect x="104.50" y="369.24" width="4.20" height="4.20" fill="#0b5c0b" />
<rect x="115.03" y="352.49" width="4.20" height="4.20" fill="#0b5c0b" />
<rect x="125.57" y="336.57" width="4.20" height="4.20" fill="#0b5c0b" />
<rect x="146.64" y="281.85" width="4.20" height="4.20" fill="#0b5c0b" />
<rect x="167.70" y="277.94" width="4.20" height="4.20" fill="#0b5c0b" />
<rect x="199.30" y="280.17" width="4.20" height="4.20" fill="#0b5c0b" />
<rect x="72.70" y="389.70" width="4.60" height="4.60" fill="#0b5c0b" />
<rect x="104.30" y="383.84" width="4.60" height="4.60" fill="#0b5c0b" />
<rect x="114.83" y="366.81" width="4.60" height="4.60" fill="#0b5c0b" />
<rect x="125.37" y="362.06" width="4.60" height="4.60" fill="#0b5c0b" />
<rect x="146.44" y="365.69" width="4.60" height="4.60" fill="#0b5c0b" />
<rect x="167.50" y="358.15" width="4.60" height="4.60" fill="#0b5c0b" />
<rect x="199.10" y="335.26" width="4.60" height="4.60" fill="#0b5c0b" />
<circle cx="75.00" cy="392.00" r="2.30" fill="#b40ee6" />
<circle cx="106.60" cy="369.11" r="2.30" fill="#b40ee6" />
<circle cx="117.13" cy="353.75" r="2.30" fill="#b40ee6" />
<circle cx="127.67" cy="336.16" r="2.30" fill="#b40ee6" />
<circle cx="148.74" cy="281.44" r="2.30" fill="#b40ee6" />
<circle cx="169.80" cy="277.53" r="2.30" fill="#b40ee6" />
<circle cx="201.40" cy="278.09" r="2.30" fill="#b40ee6" />
<circle cx="75.00" cy="392.00" r="2.20" fill="#b40ee6" />
<circle cx="106.60" cy="390.05" r="2.20" fill="#b40ee6" />
<circle cx="117.13" cy="388.93" r="2.20" fill="#b40ee6" />
<circle cx="127.67" cy="388.65" r="2.20" fill="#b40ee6" />
<circle cx="148.74" cy="387.25" r="2.20" fill="#b40ee6" />
<circle cx="169.80" cy="385.02" r="2.20" fill="#b40ee6" />
<circle cx="201.40" cy="378.32" r="2.20" fill="#b40ee6" />
<text x="45.60" y="430.50" font-size="10.5" stroke="#000" stroke-width="0.22" font-weight="bold">d</text>
<text x="95.70" y="439.30" font-size="8.4" stroke="#111" stroke-width="0.22" text-anchor="middle" fill="#111">GFP</text>
<text x="157.00" y="439.30" font-size="8.4" stroke="#111" stroke-width="0.22" text-anchor="middle" fill="#111">mRuby2</text>
<text x="221.50" y="439.30" font-size="8.4" stroke="#111" stroke-width="0.22" text-anchor="middle" fill="#111">Merge</text>
<text x="54.20" y="479.80" font-size="8.7" stroke="#22b856" stroke-width="0.22" text-anchor="end" fill="#22b856">McDBOX2</text>
<text x="54.20" y="543.20" font-size="8.4" stroke="#3f6b2c" stroke-width="0.22" text-anchor="end" fill="#3f6b2c">McDBOX2Δ29</text>
<text x="262.00" y="476.00" font-size="8.4" stroke="#111" stroke-width="0.22" fill="#111" font-style="italic">VPH1</text>
<text x="262.00" y="487.00" font-size="8.4" stroke="#111" stroke-width="0.22" fill="#111">(Vacuole)</text>
<text x="262.00" y="536.80" font-size="8.4" stroke="#111" stroke-width="0.22" fill="#111" font-style="italic">VPH1</text>
<text x="262.00" y="547.80" font-size="8.4" stroke="#111" stroke-width="0.22" fill="#111">(Vacuole)</text>
<defs>
<filter id="bl1" x="-50%" y="-50%" width="200%" height="200%"><feGaussianBlur stdDeviation="0.45"/></filter>
<filter id="bl3" x="-50%" y="-50%" width="200%" height="200%"><feGaussianBlur stdDeviation="0.7"/></filter>
<filter id="bl4" x="-50%" y="-50%" width="200%" height="200%"><feGaussianBlur stdDeviation="1.1"/></filter>
<filter id="bl2" x="-50%" y="-50%" width="200%" height="200%"><feGaussianBlur stdDeviation="1.0"/></filter>
<radialGradient id="gfill" cx="50%" cy="50%" r="50%"><stop offset="0" stop-color="#1f8a2e"/><stop offset="0.75" stop-color="#17702a"/><stop offset="1" stop-color="#0a3a12" stop-opacity="0"/></radialGradient>
<radialGradient id="gfaint" cx="50%" cy="50%" r="50%"><stop offset="0" stop-color="#0e3a14"/><stop offset="1" stop-color="#0e3a14" stop-opacity="0"/></radialGradient>
<radialGradient id="mfaint" cx="50%" cy="50%" r="50%"><stop offset="0" stop-color="#3a0a3a"/><stop offset="1" stop-color="#3a0a3a" stop-opacity="0"/></radialGradient>
<radialGradient id="mgfill" cx="50%" cy="50%" r="50%"><stop offset="0" stop-color="#3d9a80"/><stop offset="1" stop-color="#2f8a6a"/></radialGradient>
</defs>
<rect x="61.00" y="444.00" width="60.20" height="60.60" fill="#020502" />
<rect x="126.00" y="444.00" width="60.20" height="60.60" fill="#0d020e" />
<rect x="192.00" y="444.00" width="60.20" height="60.60" fill="#0e0410" />
<rect x="61.00" y="509.00" width="60.20" height="60.50" fill="#020502" />
<rect x="126.00" y="509.00" width="60.20" height="60.50" fill="#0d020e" />
<rect x="192.00" y="509.00" width="60.20" height="60.50" fill="#0e0410" />
<ellipse cx="78.00" cy="472.00" rx="6.50" ry="6.50" fill="url(#gfaint)" opacity="1.0" filter="url(#bl1)"/>
<ellipse cx="102.70" cy="457.00" rx="2.60" ry="2.60" fill="url(#gfaint)" opacity="0.6" filter="url(#bl1)"/>
<circle cx="79.5" cy="488.5" r="9.2" fill="#0b3a13" opacity="0.9" filter="url(#bl3)"/>
<circle cx="78.8" cy="489.5" r="6.0" fill="#23903a" filter="url(#bl4)"/>
<g filter="url(#bl3)"><circle cx="78.61" cy="490.19" r="0.70" fill="#3ac04a" opacity="0.22"/><circle cx="76.75" cy="488.44" r="0.52" fill="#3ac04a" opacity="0.35"/><circle cx="82.01" cy="489.67" r="0.52" fill="#3ac04a" opacity="0.23"/><circle cx="74.71" cy="491.31" r="0.54" fill="#3ac04a" opacity="0.27"/><circle cx="75.22" cy="484.90" r="0.67" fill="#3ac04a" opacity="0.32"/><circle cx="79.95" cy="488.89" r="0.76" fill="#3ac04a" opacity="0.29"/><circle cx="79.91" cy="489.90" r="0.59" fill="#3ac04a" opacity="0.44"/><circle cx="80.76" cy="492.35" r="0.69" fill="#3ac04a" opacity="0.31"/><circle cx="78.39" cy="488.75" r="0.52" fill="#3ac04a" opacity="0.26"/><circle cx="77.99" cy="486.42" r="0.59" fill="#3ac04a" opacity="0.38"/><circle cx="77.14" cy="489.62" r="0.74" fill="#3ac04a" opacity="0.41"/><circle cx="79.34" cy="492.66" r="0.66" fill="#3ac04a" opacity="0.46"/><circle cx="78.93" cy="486.93" r="0.79" fill="#3ac04a" opacity="0.24"/><circle cx="75.14" cy="491.30" r="0.55" fill="#3ac04a" opacity="0.35"/><circle cx="83.25" cy="490.02" r="0.73" fill="#3ac04a" opacity="0.37"/><circle cx="80.78" cy="487.43" r="0.71" fill="#3ac04a" opacity="0.38"/><circle cx="76.56" cy="487.55" r="0.75" fill="#3ac04a" opacity="0.48"/><circle cx="75.10" cy="489.67" r="0.52" fill="#3ac04a" opacity="0.41"/><circle cx="75.61" cy="484.24" r="0.75" fill="#3ac04a" opacity="0.29"/><circle cx="76.05" cy="491.75" r="0.51" fill="#3ac04a" opacity="0.34"/><circle cx="79.76" cy="490.00" r="0.52" fill="#3ac04a" opacity="0.43"/><circle cx="80.48" cy="490.35" r="0.62" fill="#3ac04a" opacity="0.46"/><circle cx="81.80" cy="490.44" r="0.66" fill="#3ac04a" opacity="0.47"/><circle cx="81.41" cy="484.24" r="0.58" fill="#3ac04a" opacity="0.32"/><circle cx="75.81" cy="493.16" r="0.79" fill="#3ac04a" opacity="0.25"/><circle cx="79.99" cy="490.59" r="0.57" fill="#3ac04a" opacity="0.35"/><circle cx="77.55" cy="487.97" r="0.50" fill="#3ac04a" opacity="0.33"/><circle cx="76.74" cy="491.65" r="0.79" fill="#3ac04a" opacity="0.41"/><circle cx="75.32" cy="488.62" r="0.70" fill="#3ac04a" opacity="0.22"/><circle cx="83.07" cy="486.17" r="0.76" fill="#3ac04a" opacity="0.44"/><circle cx="77.10" cy="490.69" r="0.53" fill="#3ac04a" opacity="0.39"/><circle cx="80.00" cy="489.33" r="0.56" fill="#3ac04a" opacity="0.25"/><circle cx="78.78" cy="489.67" r="0.50" fill="#3ac04a" opacity="0.25"/><circle cx="81.21" cy="490.49" r="0.51" fill="#3ac04a" opacity="0.46"/><circle cx="78.21" cy="488.13" r="0.58" fill="#3ac04a" opacity="0.30"/></g>
<g filter="url(#bl3)"><circle cx="74.34" cy="494.41" r="0.56" fill="#30b844" opacity="0.70"/><circle cx="71.13" cy="490.32" r="0.37" fill="#30b844" opacity="0.34"/><circle cx="75.03" cy="495.29" r="0.56" fill="#30b844" opacity="0.36"/><circle cx="88.90" cy="489.87" r="0.48" fill="#30b844" opacity="0.36"/><circle cx="72.13" cy="486.45" r="0.48" fill="#30b844" opacity="0.69"/><circle cx="85.38" cy="481.69" r="0.42" fill="#30b844" opacity="0.45"/><circle cx="84.05" cy="496.43" r="0.48" fill="#30b844" opacity="0.61"/><circle cx="75.64" cy="495.56" r="0.55" fill="#30b844" opacity="0.69"/><circle cx="85.04" cy="481.14" r="0.55" fill="#30b844" opacity="0.60"/><circle cx="80.76" cy="497.04" r="0.44" fill="#30b844" opacity="0.31"/><circle cx="87.53" cy="489.92" r="0.41" fill="#30b844" opacity="0.58"/><circle cx="87.68" cy="486.21" r="0.58" fill="#30b844" opacity="0.70"/><circle cx="87.50" cy="486.18" r="0.41" fill="#30b844" opacity="0.39"/><circle cx="82.13" cy="496.06" r="0.51" fill="#30b844" opacity="0.66"/><circle cx="84.11" cy="481.29" r="0.51" fill="#30b844" opacity="0.62"/><circle cx="87.19" cy="493.03" r="0.58" fill="#30b844" opacity="0.61"/><circle cx="79.51" cy="479.94" r="0.39" fill="#30b844" opacity="0.62"/><circle cx="74.94" cy="496.49" r="0.59" fill="#30b844" opacity="0.46"/><circle cx="71.77" cy="494.01" r="0.53" fill="#30b844" opacity="0.37"/><circle cx="85.02" cy="494.16" r="0.58" fill="#30b844" opacity="0.62"/><circle cx="85.12" cy="495.85" r="0.60" fill="#30b844" opacity="0.56"/><circle cx="74.37" cy="495.52" r="0.38" fill="#30b844" opacity="0.31"/><circle cx="88.25" cy="486.88" r="0.48" fill="#30b844" opacity="0.67"/><circle cx="70.95" cy="492.27" r="0.56" fill="#30b844" opacity="0.38"/><circle cx="79.41" cy="496.69" r="0.41" fill="#30b844" opacity="0.53"/><circle cx="79.00" cy="496.92" r="0.38" fill="#30b844" opacity="0.66"/><circle cx="74.33" cy="495.27" r="0.50" fill="#30b844" opacity="0.66"/><circle cx="71.21" cy="493.01" r="0.48" fill="#30b844" opacity="0.51"/><circle cx="71.95" cy="487.38" r="0.46" fill="#30b844" opacity="0.37"/><circle cx="88.70" cy="488.73" r="0.39" fill="#30b844" opacity="0.49"/><circle cx="78.15" cy="479.89" r="0.43" fill="#30b844" opacity="0.51"/><circle cx="70.88" cy="485.37" r="0.38" fill="#30b844" opacity="0.52"/><circle cx="79.58" cy="496.65" r="0.54" fill="#30b844" opacity="0.50"/><circle cx="71.06" cy="485.05" r="0.58" fill="#30b844" opacity="0.48"/><circle cx="72.95" cy="482.91" r="0.48" fill="#30b844" opacity="0.58"/><circle cx="71.22" cy="491.06" r="0.47" fill="#30b844" opacity="0.68"/><circle cx="76.57" cy="479.62" r="0.59" fill="#30b844" opacity="0.40"/><circle cx="70.67" cy="485.03" r="0.56" fill="#30b844" opacity="0.35"/><circle cx="85.63" cy="494.37" r="0.37" fill="#30b844" opacity="0.40"/><circle cx="87.51" cy="492.46" r="0.55" fill="#30b844" opacity="0.66"/><circle cx="84.60" cy="495.95" r="0.52" fill="#30b844" opacity="0.36"/><circle cx="86.57" cy="482.10" r="0.40" fill="#30b844" opacity="0.68"/><circle cx="72.62" cy="493.62" r="0.60" fill="#30b844" opacity="0.63"/><circle cx="83.97" cy="495.69" r="0.48" fill="#30b844" opacity="0.44"/><circle cx="82.25" cy="496.26" r="0.53" fill="#30b844" opacity="0.31"/><circle cx="71.50" cy="485.67" r="0.35" fill="#30b844" opacity="0.43"/><circle cx="73.36" cy="482.44" r="0.37" fill="#30b844" opacity="0.69"/><circle cx="81.78" cy="479.23" r="0.38" fill="#30b844" opacity="0.41"/><circle cx="88.38" cy="490.75" r="0.42" fill="#30b844" opacity="0.35"/><circle cx="71.18" cy="492.92" r="0.55" fill="#30b844" opacity="0.40"/><circle cx="85.08" cy="496.11" r="0.49" fill="#30b844" opacity="0.58"/><circle cx="86.03" cy="492.61" r="0.52" fill="#30b844" opacity="0.47"/><circle cx="88.01" cy="492.66" r="0.51" fill="#30b844" opacity="0.62"/><circle cx="87.55" cy="493.18" r="0.37" fill="#30b844" opacity="0.65"/><circle cx="71.57" cy="490.87" r="0.49" fill="#30b844" opacity="0.67"/></g>
<path d="M102.8,468.0 A3.0,3.3 0 1,0 106.6,471.0" fill="none" stroke="#3cf05a" stroke-width="2.0" filter="url(#bl1)"/>
<circle cx="103.4" cy="471.0" r="4.4" fill="#15701f" opacity="0.7" filter="url(#bl3)"/>
<path d="M102.8,468.0 A3.0,3.3 0 1,0 106.6,471.0" fill="none" stroke="#40f060" stroke-width="1.8" filter="url(#bl1)"/>
<ellipse cx="143.20" cy="490.00" rx="5.20" ry="5.20" fill="#1e0420" opacity="1.0" filter="url(#bl1)"/>
<ellipse cx="143.20" cy="490.00" rx="5.40" ry="5.40" fill="none" stroke="#a020a8" stroke-width="1.4" opacity="1.0" filter="url(#bl3)"/>
<ellipse cx="143.20" cy="490.00" rx="5.40" ry="5.40" fill="none" stroke="#b028b8" stroke-width="0.6" opacity="1.0" filter="url(#bl1)"/>
<circle cx="169.2" cy="471.5" r="3.3" fill="#901890" filter="url(#bl1)"/>
<ellipse cx="169.20" cy="471.50" rx="3.00" ry="3.00" fill="none" stroke="#f040f0" stroke-width="1.3" opacity="1.0" filter="url(#bl1)"/>
<ellipse cx="145.00" cy="471.00" rx="2.20" ry="2.20" fill="url(#mfaint)" opacity="1.0" filter="url(#bl1)"/>
<ellipse cx="209.00" cy="471.70" rx="5.50" ry="5.50" fill="url(#gfaint)" opacity="1.0" filter="url(#bl1)"/>
<circle cx="210.0" cy="489.0" r="8.6" fill="#0f5a22" opacity="0.85" filter="url(#bl4)"/>
<g filter="url(#bl3)"><circle cx="209.30" cy="495.17" r="0.56" fill="#2cb844" opacity="0.40"/><circle cx="214.88" cy="493.01" r="0.42" fill="#2cb844" opacity="0.38"/><circle cx="207.43" cy="495.27" r="0.63" fill="#2cb844" opacity="0.42"/><circle cx="203.63" cy="489.00" r="0.50" fill="#2cb844" opacity="0.31"/><circle cx="209.98" cy="494.85" r="0.62" fill="#2cb844" opacity="0.52"/><circle cx="212.72" cy="495.80" r="0.68" fill="#2cb844" opacity="0.34"/><circle cx="213.01" cy="482.48" r="0.55" fill="#2cb844" opacity="0.63"/><circle cx="204.19" cy="493.62" r="0.61" fill="#2cb844" opacity="0.69"/><circle cx="205.34" cy="496.07" r="0.61" fill="#2cb844" opacity="0.55"/><circle cx="204.29" cy="492.90" r="0.42" fill="#2cb844" opacity="0.35"/><circle cx="217.38" cy="492.51" r="0.48" fill="#2cb844" opacity="0.37"/><circle cx="217.32" cy="493.30" r="0.66" fill="#2cb844" opacity="0.57"/><circle cx="208.69" cy="495.44" r="0.49" fill="#2cb844" opacity="0.48"/><circle cx="213.97" cy="495.04" r="0.48" fill="#2cb844" opacity="0.68"/><circle cx="217.44" cy="487.71" r="0.47" fill="#2cb844" opacity="0.69"/><circle cx="207.46" cy="495.46" r="0.40" fill="#2cb844" opacity="0.45"/><circle cx="202.68" cy="490.18" r="0.46" fill="#2cb844" opacity="0.50"/><circle cx="216.64" cy="489.21" r="0.43" fill="#2cb844" opacity="0.46"/><circle cx="215.67" cy="490.52" r="0.49" fill="#2cb844" opacity="0.39"/><circle cx="203.56" cy="485.16" r="0.63" fill="#2cb844" opacity="0.56"/><circle cx="208.17" cy="480.58" r="0.52" fill="#2cb844" opacity="0.43"/><circle cx="216.25" cy="488.40" r="0.62" fill="#2cb844" opacity="0.56"/><circle cx="218.15" cy="491.30" r="0.67" fill="#2cb844" opacity="0.55"/><circle cx="209.15" cy="480.64" r="0.44" fill="#2cb844" opacity="0.51"/><circle cx="201.53" cy="488.77" r="0.64" fill="#2cb844" opacity="0.63"/><circle cx="202.52" cy="484.64" r="0.60" fill="#2cb844" opacity="0.58"/><circle cx="210.74" cy="494.85" r="0.44" fill="#2cb844" opacity="0.44"/><circle cx="216.70" cy="494.19" r="0.57" fill="#2cb844" opacity="0.55"/><circle cx="204.40" cy="483.32" r="0.55" fill="#2cb844" opacity="0.30"/><circle cx="212.42" cy="481.17" r="0.55" fill="#2cb844" opacity="0.51"/><circle cx="206.76" cy="483.94" r="0.62" fill="#2cb844" opacity="0.40"/><circle cx="215.94" cy="492.00" r="0.62" fill="#2cb844" opacity="0.38"/><circle cx="209.43" cy="480.10" r="0.55" fill="#2cb844" opacity="0.45"/><circle cx="202.08" cy="490.05" r="0.63" fill="#2cb844" opacity="0.55"/><circle cx="206.23" cy="484.27" r="0.44" fill="#2cb844" opacity="0.40"/><circle cx="209.71" cy="482.23" r="0.57" fill="#2cb844" opacity="0.30"/><circle cx="216.18" cy="491.48" r="0.60" fill="#2cb844" opacity="0.58"/><circle cx="206.97" cy="482.99" r="0.55" fill="#2cb844" opacity="0.49"/><circle cx="203.96" cy="490.30" r="0.67" fill="#2cb844" opacity="0.38"/><circle cx="218.71" cy="487.79" r="0.41" fill="#2cb844" opacity="0.48"/><circle cx="213.78" cy="480.95" r="0.53" fill="#2cb844" opacity="0.41"/><circle cx="212.20" cy="497.55" r="0.46" fill="#2cb844" opacity="0.53"/><circle cx="214.70" cy="494.81" r="0.69" fill="#2cb844" opacity="0.35"/><circle cx="213.17" cy="482.28" r="0.67" fill="#2cb844" opacity="0.58"/><circle cx="211.01" cy="497.61" r="0.55" fill="#2cb844" opacity="0.31"/><circle cx="217.37" cy="489.17" r="0.54" fill="#2cb844" opacity="0.42"/><circle cx="214.37" cy="494.34" r="0.49" fill="#2cb844" opacity="0.64"/><circle cx="218.20" cy="489.09" r="0.65" fill="#2cb844" opacity="0.35"/><circle cx="217.23" cy="485.39" r="0.67" fill="#2cb844" opacity="0.42"/><circle cx="205.10" cy="494.08" r="0.70" fill="#2cb844" opacity="0.54"/></g>
<ellipse cx="210.00" cy="489.50" rx="5.20" ry="5.20" fill="#45a888" opacity="1.0" filter="url(#bl1)"/>
<ellipse cx="210.00" cy="489.50" rx="5.30" ry="5.30" fill="none" stroke="#c850d8" stroke-width="1.0" opacity="1.0" filter="url(#bl1)"/>
<circle cx="234.5" cy="471.6" r="4.6" fill="#1a5a2a" opacity="0.8" filter="url(#bl4)"/>
<ellipse cx="234.50" cy="471.60" rx="3.20" ry="3.20" fill="#e0f6ff" opacity="1.0" filter="url(#bl1)"/>
<path d="M232.2,469.2 A3.4,3.4 0 0,0 233.2,474.6" fill="none" stroke="#d070e0" stroke-width="0.9" filter="url(#bl1)"/>
<ellipse cx="84.70" cy="522.80" rx="5.00" ry="5.00" fill="url(#gfaint)" opacity="1.0" filter="url(#bl1)"/>
<ellipse cx="71.80" cy="535.50" rx="6.40" ry="7.00" fill="#0d4a16" opacity="1.0" filter="url(#bl1)"/>
<ellipse cx="71.80" cy="535.50" rx="5.60" ry="6.20" fill="none" stroke="#30c84c" stroke-width="1.6" opacity="1.0" filter="url(#bl1)"/>
<g filter="url(#bl3)"><circle cx="68.78" cy="539.12" r="0.48" fill="#3ae058" opacity="0.42"/><circle cx="76.89" cy="539.28" r="0.49" fill="#3ae058" opacity="0.87"/><circle cx="71.82" cy="539.56" r="0.55" fill="#3ae058" opacity="0.49"/><circle cx="67.02" cy="540.38" r="0.67" fill="#3ae058" opacity="0.81"/><circle cx="67.27" cy="530.62" r="0.68" fill="#3ae058" opacity="0.67"/><circle cx="71.19" cy="532.36" r="0.62" fill="#3ae058" opacity="0.63"/><circle cx="71.89" cy="529.92" r="0.49" fill="#3ae058" opacity="0.42"/><circle cx="74.94" cy="533.94" r="0.54" fill="#3ae058" opacity="0.57"/><circle cx="70.04" cy="541.19" r="0.69" fill="#3ae058" opacity="0.53"/><circle cx="69.46" cy="532.01" r="0.57" fill="#3ae058" opacity="0.60"/><circle cx="73.61" cy="538.67" r="0.46" fill="#3ae058" opacity="0.85"/><circle cx="67.92" cy="535.57" r="0.67" fill="#3ae058" opacity="0.90"/><circle cx="68.42" cy="536.60" r="0.46" fill="#3ae058" opacity="0.45"/><circle cx="69.96" cy="538.32" r="0.47" fill="#3ae058" opacity="0.53"/><circle cx="65.87" cy="532.73" r="0.62" fill="#3ae058" opacity="0.61"/><circle cx="67.43" cy="538.13" r="0.51" fill="#3ae058" opacity="0.57"/><circle cx="75.60" cy="537.06" r="0.69" fill="#3ae058" opacity="0.46"/><circle cx="66.28" cy="535.38" r="0.66" fill="#3ae058" opacity="0.51"/><circle cx="71.27" cy="539.46" r="0.52" fill="#3ae058" opacity="0.62"/><circle cx="77.93" cy="533.68" r="0.66" fill="#3ae058" opacity="0.41"/><circle cx="77.52" cy="536.67" r="0.67" fill="#3ae058" opacity="0.64"/><circle cx="69.24" cy="533.94" r="0.52" fill="#3ae058" opacity="0.86"/><circle cx="74.74" cy="529.79" r="0.69" fill="#3ae058" opacity="0.52"/><circle cx="74.60" cy="537.79" r="0.56" fill="#3ae058" opacity="0.74"/><circle cx="77.29" cy="533.38" r="0.59" fill="#3ae058" opacity="0.78"/><circle cx="66.78" cy="536.88" r="0.41" fill="#3ae058" opacity="0.79"/><circle cx="72.53" cy="542.14" r="0.59" fill="#3ae058" opacity="0.55"/><circle cx="74.58" cy="538.39" r="0.59" fill="#3ae058" opacity="0.75"/><circle cx="74.30" cy="537.63" r="0.56" fill="#3ae058" opacity="0.69"/><circle cx="68.83" cy="538.02" r="0.58" fill="#3ae058" opacity="0.41"/><circle cx="70.26" cy="540.09" r="0.69" fill="#3ae058" opacity="0.72"/><circle cx="75.45" cy="532.23" r="0.47" fill="#3ae058" opacity="0.52"/><circle cx="77.44" cy="534.07" r="0.49" fill="#3ae058" opacity="0.41"/><circle cx="66.10" cy="535.56" r="0.53" fill="#3ae058" opacity="0.53"/><circle cx="68.47" cy="529.68" r="0.47" fill="#3ae058" opacity="0.42"/><circle cx="69.34" cy="539.48" r="0.60" fill="#3ae058" opacity="0.50"/><circle cx="73.54" cy="529.80" r="0.55" fill="#3ae058" opacity="0.50"/><circle cx="75.97" cy="534.70" r="0.65" fill="#3ae058" opacity="0.52"/><circle cx="72.88" cy="541.44" r="0.49" fill="#3ae058" opacity="0.88"/><circle cx="68.05" cy="535.60" r="0.47" fill="#3ae058" opacity="0.61"/><circle cx="68.35" cy="529.64" r="0.44" fill="#3ae058" opacity="0.60"/><circle cx="73.39" cy="542.21" r="0.44" fill="#3ae058" opacity="0.43"/><circle cx="76.05" cy="537.19" r="0.67" fill="#3ae058" opacity="0.84"/><circle cx="71.04" cy="528.55" r="0.68" fill="#3ae058" opacity="0.56"/><circle cx="74.46" cy="541.70" r="0.62" fill="#3ae058" opacity="0.42"/><circle cx="69.49" cy="531.62" r="0.51" fill="#3ae058" opacity="0.57"/><circle cx="73.26" cy="538.13" r="0.48" fill="#3ae058" opacity="0.58"/><circle cx="75.16" cy="534.54" r="0.69" fill="#3ae058" opacity="0.50"/><circle cx="67.90" cy="540.43" r="0.65" fill="#3ae058" opacity="0.62"/><circle cx="76.46" cy="536.99" r="0.51" fill="#3ae058" opacity="0.86"/></g>
<ellipse cx="104.60" cy="537.80" rx="5.60" ry="5.60" fill="#0a3a10" opacity="1.0" filter="url(#bl1)"/>
<g filter="url(#bl3)"><circle cx="105.54" cy="540.31" r="0.67" fill="#2ec446" opacity="0.32"/><circle cx="100.59" cy="540.32" r="0.63" fill="#2ec446" opacity="0.32"/><circle cx="105.86" cy="538.08" r="0.68" fill="#2ec446" opacity="0.43"/><circle cx="104.51" cy="532.67" r="0.50" fill="#2ec446" opacity="0.44"/><circle cx="108.30" cy="536.79" r="0.48" fill="#2ec446" opacity="0.66"/><circle cx="103.68" cy="539.87" r="0.40" fill="#2ec446" opacity="0.68"/><circle cx="107.99" cy="535.84" r="0.68" fill="#2ec446" opacity="0.31"/><circle cx="104.92" cy="540.97" r="0.69" fill="#2ec446" opacity="0.78"/><circle cx="102.97" cy="539.21" r="0.53" fill="#2ec446" opacity="0.55"/><circle cx="106.26" cy="537.00" r="0.64" fill="#2ec446" opacity="0.67"/><circle cx="106.61" cy="533.71" r="0.58" fill="#2ec446" opacity="0.46"/><circle cx="103.47" cy="540.21" r="0.63" fill="#2ec446" opacity="0.34"/><circle cx="106.05" cy="542.02" r="0.47" fill="#2ec446" opacity="0.33"/><circle cx="108.06" cy="538.55" r="0.50" fill="#2ec446" opacity="0.79"/><circle cx="108.72" cy="534.09" r="0.48" fill="#2ec446" opacity="0.34"/><circle cx="107.31" cy="539.68" r="0.61" fill="#2ec446" opacity="0.52"/><circle cx="104.89" cy="540.70" r="0.59" fill="#2ec446" opacity="0.64"/><circle cx="104.54" cy="532.90" r="0.60" fill="#2ec446" opacity="0.36"/><circle cx="105.87" cy="535.82" r="0.57" fill="#2ec446" opacity="0.49"/><circle cx="104.46" cy="535.89" r="0.47" fill="#2ec446" opacity="0.42"/><circle cx="107.49" cy="541.96" r="0.57" fill="#2ec446" opacity="0.46"/><circle cx="100.18" cy="541.18" r="0.55" fill="#2ec446" opacity="0.42"/><circle cx="106.04" cy="534.06" r="0.70" fill="#2ec446" opacity="0.35"/><circle cx="99.89" cy="538.55" r="0.65" fill="#2ec446" opacity="0.76"/><circle cx="106.88" cy="538.39" r="0.44" fill="#2ec446" opacity="0.39"/><circle cx="108.23" cy="537.18" r="0.68" fill="#2ec446" opacity="0.49"/><circle cx="106.64" cy="535.51" r="0.48" fill="#2ec446" opacity="0.69"/><circle cx="106.00" cy="537.30" r="0.58" fill="#2ec446" opacity="0.61"/><circle cx="105.14" cy="540.44" r="0.44" fill="#2ec446" opacity="0.40"/><circle cx="104.48" cy="541.56" r="0.60" fill="#2ec446" opacity="0.40"/><circle cx="107.10" cy="537.98" r="0.60" fill="#2ec446" opacity="0.39"/><circle cx="103.86" cy="539.59" r="0.64" fill="#2ec446" opacity="0.57"/><circle cx="105.95" cy="538.37" r="0.52" fill="#2ec446" opacity="0.58"/><circle cx="103.69" cy="536.71" r="0.45" fill="#2ec446" opacity="0.65"/><circle cx="102.66" cy="539.04" r="0.49" fill="#2ec446" opacity="0.78"/><circle cx="103.22" cy="541.13" r="0.51" fill="#2ec446" opacity="0.51"/><circle cx="108.27" cy="533.59" r="0.51" fill="#2ec446" opacity="0.40"/><circle cx="104.33" cy="535.88" r="0.40" fill="#2ec446" opacity="0.75"/><circle cx="100.36" cy="540.00" r="0.52" fill="#2ec446" opacity="0.74"/><circle cx="102.90" cy="538.22" r="0.40" fill="#2ec446" opacity="0.58"/><circle cx="101.31" cy="533.79" r="0.43" fill="#2ec446" opacity="0.61"/><circle cx="102.31" cy="540.21" r="0.44" fill="#2ec446" opacity="0.44"/><circle cx="99.39" cy="537.10" r="0.43" fill="#2ec446" opacity="0.55"/><circle cx="106.44" cy="532.67" r="0.46" fill="#2ec446" opacity="0.36"/><circle cx="109.74" cy="535.88" r="0.54" fill="#2ec446" opacity="0.33"/></g>
<ellipse cx="100.80" cy="554.20" rx="8.00" ry="8.00" fill="#061a08" opacity="1.0" filter="url(#bl1)"/>
<ellipse cx="100.80" cy="554.20" rx="7.20" ry="7.20" fill="none" stroke="#1e9a32" stroke-width="1.0" opacity="0.8" filter="url(#bl1)"/>
<g filter="url(#bl3)"><circle cx="108.08" cy="550.56" r="0.53" fill="#28b840" opacity="0.71"/><circle cx="104.33" cy="547.22" r="0.51" fill="#28b840" opacity="0.51"/><circle cx="93.55" cy="559.16" r="0.52" fill="#28b840" opacity="0.49"/><circle cx="102.42" cy="562.20" r="0.45" fill="#28b840" opacity="0.59"/><circle cx="106.49" cy="559.75" r="0.49" fill="#28b840" opacity="0.85"/><circle cx="108.91" cy="556.34" r="0.50" fill="#28b840" opacity="0.42"/><circle cx="104.89" cy="547.60" r="0.47" fill="#28b840" opacity="0.68"/><circle cx="95.20" cy="548.45" r="0.43" fill="#28b840" opacity="0.69"/><circle cx="93.19" cy="558.03" r="0.44" fill="#28b840" opacity="0.62"/><circle cx="109.18" cy="555.44" r="0.45" fill="#28b840" opacity="0.52"/><circle cx="101.54" cy="545.54" r="0.44" fill="#28b840" opacity="0.49"/><circle cx="93.16" cy="555.50" r="0.38" fill="#28b840" opacity="0.62"/><circle cx="107.69" cy="558.68" r="0.45" fill="#28b840" opacity="0.42"/><circle cx="95.75" cy="548.37" r="0.50" fill="#28b840" opacity="0.79"/><circle cx="93.14" cy="553.65" r="0.45" fill="#28b840" opacity="0.59"/><circle cx="108.22" cy="551.83" r="0.52" fill="#28b840" opacity="0.90"/><circle cx="99.82" cy="545.51" r="0.39" fill="#28b840" opacity="0.89"/><circle cx="91.87" cy="554.66" r="0.53" fill="#28b840" opacity="0.48"/><circle cx="102.93" cy="545.55" r="0.36" fill="#28b840" opacity="0.58"/><circle cx="101.10" cy="546.38" r="0.53" fill="#28b840" opacity="0.54"/><circle cx="103.93" cy="547.05" r="0.45" fill="#28b840" opacity="0.86"/><circle cx="102.86" cy="561.90" r="0.45" fill="#28b840" opacity="0.56"/><circle cx="108.45" cy="556.00" r="0.38" fill="#28b840" opacity="0.87"/><circle cx="97.01" cy="546.20" r="0.38" fill="#28b840" opacity="0.79"/><circle cx="107.06" cy="559.72" r="0.48" fill="#28b840" opacity="0.58"/><circle cx="106.65" cy="548.20" r="0.47" fill="#28b840" opacity="0.84"/><circle cx="107.92" cy="559.69" r="0.48" fill="#28b840" opacity="0.60"/><circle cx="103.15" cy="546.58" r="0.55" fill="#28b840" opacity="0.69"/><circle cx="95.26" cy="560.87" r="0.44" fill="#28b840" opacity="0.49"/><circle cx="100.49" cy="546.54" r="0.51" fill="#28b840" opacity="0.53"/><circle cx="95.04" cy="547.31" r="0.47" fill="#28b840" opacity="0.73"/><circle cx="97.88" cy="561.22" r="0.36" fill="#28b840" opacity="0.47"/><circle cx="94.68" cy="548.73" r="0.45" fill="#28b840" opacity="0.85"/><circle cx="106.15" cy="560.04" r="0.48" fill="#28b840" opacity="0.41"/><circle cx="108.90" cy="554.33" r="0.37" fill="#28b840" opacity="0.58"/><circle cx="102.16" cy="562.51" r="0.47" fill="#28b840" opacity="0.50"/><circle cx="94.92" cy="548.40" r="0.38" fill="#28b840" opacity="0.87"/><circle cx="101.11" cy="562.00" r="0.37" fill="#28b840" opacity="0.72"/><circle cx="106.80" cy="547.91" r="0.43" fill="#28b840" opacity="0.53"/><circle cx="109.28" cy="554.81" r="0.46" fill="#28b840" opacity="0.58"/><circle cx="95.79" cy="547.68" r="0.54" fill="#28b840" opacity="0.77"/><circle cx="100.88" cy="563.06" r="0.36" fill="#28b840" opacity="0.67"/><circle cx="94.21" cy="558.62" r="0.36" fill="#28b840" opacity="0.79"/><circle cx="109.15" cy="554.85" r="0.54" fill="#28b840" opacity="0.47"/><circle cx="103.44" cy="562.23" r="0.45" fill="#28b840" opacity="0.72"/><circle cx="103.84" cy="546.97" r="0.41" fill="#28b840" opacity="0.55"/><circle cx="109.24" cy="556.85" r="0.51" fill="#28b840" opacity="0.76"/><circle cx="109.58" cy="554.55" r="0.50" fill="#28b840" opacity="0.63"/><circle cx="100.37" cy="545.98" r="0.40" fill="#28b840" opacity="0.45"/><circle cx="101.65" cy="561.81" r="0.42" fill="#28b840" opacity="0.77"/><circle cx="97.83" cy="545.93" r="0.49" fill="#28b840" opacity="0.53"/><circle cx="93.05" cy="551.48" r="0.51" fill="#28b840" opacity="0.66"/><circle cx="99.98" cy="562.66" r="0.54" fill="#28b840" opacity="0.51"/><circle cx="106.36" cy="548.98" r="0.40" fill="#28b840" opacity="0.52"/><circle cx="100.46" cy="545.28" r="0.50" fill="#28b840" opacity="0.56"/><circle cx="106.68" cy="548.69" r="0.40" fill="#28b840" opacity="0.85"/><circle cx="94.96" cy="547.93" r="0.48" fill="#28b840" opacity="0.89"/><circle cx="92.19" cy="555.87" r="0.49" fill="#28b840" opacity="0.83"/><circle cx="92.85" cy="557.51" r="0.46" fill="#28b840" opacity="0.55"/><circle cx="102.81" cy="562.43" r="0.37" fill="#28b840" opacity="0.86"/><circle cx="105.50" cy="560.22" r="0.37" fill="#28b840" opacity="0.86"/><circle cx="96.42" cy="560.65" r="0.36" fill="#28b840" opacity="0.42"/><circle cx="97.81" cy="546.26" r="0.49" fill="#28b840" opacity="0.77"/><circle cx="108.52" cy="557.58" r="0.42" fill="#28b840" opacity="0.81"/><circle cx="104.55" cy="546.18" r="0.36" fill="#28b840" opacity="0.83"/><circle cx="108.46" cy="549.63" r="0.37" fill="#28b840" opacity="0.50"/><circle cx="106.63" cy="559.15" r="0.52" fill="#28b840" opacity="0.81"/><circle cx="94.98" cy="547.66" r="0.48" fill="#28b840" opacity="0.54"/><circle cx="107.06" cy="558.74" r="0.50" fill="#28b840" opacity="0.50"/><circle cx="97.35" cy="561.63" r="0.35" fill="#28b840" opacity="0.53"/></g>
<path d="M138.6,537.2 A4.8,4.8 0 1,1 145.8,537.4" fill="none" stroke="#c82ad0" stroke-width="1.3" filter="url(#bl1)"/>
<ellipse cx="137.20" cy="541.20" rx="2.00" ry="2.00" fill="none" stroke="#a020a0" stroke-width="0.9" opacity="1.0" filter="url(#bl1)"/>
<ellipse cx="169.20" cy="538.20" rx="3.30" ry="3.30" fill="none" stroke="#e040e8" stroke-width="1.2" opacity="1.0" filter="url(#bl1)"/>
<g filter="url(#bl3)"><circle cx="168.46" cy="541.76" r="0.51" fill="#e040e8" opacity="0.63"/><circle cx="172.33" cy="537.48" r="0.66" fill="#e040e8" opacity="0.75"/><circle cx="172.17" cy="538.79" r="0.53" fill="#e040e8" opacity="0.81"/><circle cx="167.14" cy="541.16" r="0.56" fill="#e040e8" opacity="0.59"/><circle cx="170.74" cy="536.39" r="0.65" fill="#e040e8" opacity="0.57"/><circle cx="171.80" cy="538.22" r="0.63" fill="#e040e8" opacity="0.89"/><circle cx="172.38" cy="538.29" r="0.55" fill="#e040e8" opacity="0.82"/><circle cx="170.48" cy="541.12" r="0.50" fill="#e040e8" opacity="0.83"/><circle cx="168.93" cy="542.28" r="0.49" fill="#e040e8" opacity="0.59"/><circle cx="168.20" cy="535.16" r="0.43" fill="#e040e8" opacity="0.75"/><circle cx="172.50" cy="540.04" r="0.61" fill="#e040e8" opacity="0.81"/><circle cx="167.18" cy="536.10" r="0.52" fill="#e040e8" opacity="0.66"/><circle cx="171.03" cy="536.69" r="0.67" fill="#e040e8" opacity="0.51"/><circle cx="169.94" cy="540.82" r="0.67" fill="#e040e8" opacity="0.70"/><circle cx="166.32" cy="540.93" r="0.47" fill="#e040e8" opacity="0.68"/><circle cx="165.56" cy="537.47" r="0.63" fill="#e040e8" opacity="0.76"/><circle cx="167.54" cy="540.52" r="0.45" fill="#e040e8" opacity="0.84"/><circle cx="167.27" cy="535.06" r="0.45" fill="#e040e8" opacity="0.68"/><circle cx="169.69" cy="534.88" r="0.44" fill="#e040e8" opacity="0.68"/><circle cx="171.21" cy="536.43" r="0.46" fill="#e040e8" opacity="0.62"/></g>
<ellipse cx="166.60" cy="554.20" rx="6.50" ry="6.50" fill="#170317" opacity="1.0" filter="url(#bl1)"/>
<ellipse cx="166.60" cy="554.20" rx="6.60" ry="6.60" fill="none" stroke="#c42ac8" stroke-width="1.0" opacity="1.0" filter="url(#bl1)"/>
<ellipse cx="149.00" cy="523.00" rx="4.00" ry="4.00" fill="url(#mfaint)" opacity="1.0" filter="url(#bl1)"/>
<ellipse cx="216.00" cy="522.80" rx="5.00" ry="5.00" fill="url(#gfaint)" opacity="1.0" filter="url(#bl1)"/>
<ellipse cx="202.8" cy="535.5" rx="6.6" ry="7.4" fill="#1f6a3a" opacity="0.9" filter="url(#bl3)"/>
<g filter="url(#bl3)"><circle cx="200.78" cy="528.84" r="0.45" fill="#48e070" opacity="0.48"/><circle cx="202.87" cy="540.34" r="0.58" fill="#48e070" opacity="0.48"/><circle cx="200.79" cy="539.27" r="0.74" fill="#48e070" opacity="0.76"/><circle cx="208.77" cy="539.94" r="0.44" fill="#48e070" opacity="0.59"/><circle cx="209.52" cy="534.81" r="0.66" fill="#48e070" opacity="0.62"/><circle cx="204.83" cy="541.27" r="0.44" fill="#48e070" opacity="0.50"/><circle cx="200.02" cy="537.85" r="0.54" fill="#48e070" opacity="0.80"/><circle cx="200.87" cy="530.29" r="0.62" fill="#48e070" opacity="0.63"/><circle cx="206.56" cy="540.15" r="0.54" fill="#48e070" opacity="0.77"/><circle cx="207.21" cy="532.62" r="0.60" fill="#48e070" opacity="0.77"/><circle cx="198.90" cy="537.61" r="0.65" fill="#48e070" opacity="0.84"/><circle cx="203.76" cy="529.20" r="0.70" fill="#48e070" opacity="0.74"/><circle cx="199.42" cy="531.34" r="0.51" fill="#48e070" opacity="0.71"/><circle cx="207.06" cy="538.51" r="0.67" fill="#48e070" opacity="0.76"/><circle cx="199.69" cy="532.21" r="0.55" fill="#48e070" opacity="0.63"/><circle cx="199.06" cy="531.92" r="0.64" fill="#48e070" opacity="0.87"/><circle cx="205.32" cy="541.14" r="0.67" fill="#48e070" opacity="0.59"/><circle cx="195.32" cy="535.98" r="0.41" fill="#48e070" opacity="0.67"/><circle cx="206.36" cy="541.18" r="0.73" fill="#48e070" opacity="0.66"/><circle cx="207.51" cy="538.97" r="0.59" fill="#48e070" opacity="0.76"/><circle cx="196.70" cy="535.03" r="0.69" fill="#48e070" opacity="0.66"/><circle cx="196.55" cy="539.44" r="0.47" fill="#48e070" opacity="0.74"/><circle cx="197.63" cy="539.64" r="0.44" fill="#48e070" opacity="0.89"/><circle cx="200.50" cy="538.44" r="0.50" fill="#48e070" opacity="0.60"/><circle cx="208.00" cy="535.94" r="0.55" fill="#48e070" opacity="0.75"/><circle cx="200.05" cy="539.17" r="0.48" fill="#48e070" opacity="0.77"/><circle cx="208.06" cy="533.41" r="0.48" fill="#48e070" opacity="0.80"/><circle cx="199.40" cy="538.24" r="0.45" fill="#48e070" opacity="0.79"/><circle cx="205.03" cy="529.82" r="0.56" fill="#48e070" opacity="0.68"/><circle cx="203.92" cy="542.87" r="0.52" fill="#48e070" opacity="0.72"/><circle cx="205.67" cy="529.28" r="0.56" fill="#48e070" opacity="0.55"/><circle cx="198.97" cy="534.30" r="0.69" fill="#48e070" opacity="0.58"/><circle cx="205.52" cy="531.79" r="0.53" fill="#48e070" opacity="0.53"/><circle cx="198.99" cy="537.41" r="0.40" fill="#48e070" opacity="0.76"/><circle cx="201.92" cy="539.92" r="0.51" fill="#48e070" opacity="0.64"/><circle cx="197.29" cy="538.16" r="0.63" fill="#48e070" opacity="0.58"/><circle cx="209.11" cy="532.47" r="0.42" fill="#48e070" opacity="0.81"/><circle cx="208.37" cy="531.75" r="0.45" fill="#48e070" opacity="0.82"/><circle cx="200.41" cy="532.86" r="0.40" fill="#48e070" opacity="0.88"/><circle cx="200.28" cy="531.74" r="0.44" fill="#48e070" opacity="0.47"/><circle cx="203.49" cy="542.15" r="0.52" fill="#48e070" opacity="0.48"/><circle cx="208.36" cy="531.68" r="0.46" fill="#48e070" opacity="0.85"/><circle cx="197.59" cy="531.28" r="0.63" fill="#48e070" opacity="0.85"/><circle cx="204.44" cy="528.76" r="0.47" fill="#48e070" opacity="0.75"/><circle cx="196.38" cy="534.24" r="0.55" fill="#48e070" opacity="0.84"/><circle cx="198.49" cy="533.95" r="0.48" fill="#48e070" opacity="0.47"/><circle cx="199.06" cy="535.66" r="0.56" fill="#48e070" opacity="0.47"/><circle cx="197.27" cy="535.80" r="0.59" fill="#48e070" opacity="0.83"/><circle cx="209.74" cy="535.79" r="0.56" fill="#48e070" opacity="0.68"/><circle cx="199.28" cy="529.51" r="0.53" fill="#48e070" opacity="0.61"/><circle cx="206.49" cy="534.57" r="0.62" fill="#48e070" opacity="0.72"/><circle cx="208.70" cy="536.57" r="0.64" fill="#48e070" opacity="0.87"/><circle cx="199.16" cy="542.08" r="0.58" fill="#48e070" opacity="0.64"/><circle cx="205.71" cy="533.32" r="0.65" fill="#48e070" opacity="0.71"/><circle cx="199.08" cy="541.47" r="0.53" fill="#48e070" opacity="0.64"/><circle cx="196.23" cy="534.44" r="0.47" fill="#48e070" opacity="0.62"/><circle cx="197.70" cy="538.20" r="0.69" fill="#48e070" opacity="0.55"/><circle cx="205.22" cy="530.95" r="0.58" fill="#48e070" opacity="0.54"/><circle cx="195.31" cy="535.20" r="0.63" fill="#48e070" opacity="0.80"/><circle cx="200.46" cy="539.69" r="0.50" fill="#48e070" opacity="0.69"/></g>
<ellipse cx="202.60" cy="534.50" rx="3.60" ry="3.60" fill="#8aa8b8" opacity="0.8" filter="url(#bl1)"/>
<path d="M199.2,537.4 A4.2,4.2 0 1,1 205.8,537.6" fill="none" stroke="#e0b0f0" stroke-width="1.1" filter="url(#bl1)"/>
<circle cx="235.4" cy="538.4" r="5.6" fill="#14502a" opacity="0.85" filter="url(#bl4)"/>
<g filter="url(#bl3)"><circle cx="231.78" cy="534.31" r="0.41" fill="#2cc046" opacity="0.66"/><circle cx="239.06" cy="535.20" r="0.41" fill="#2cc046" opacity="0.45"/><circle cx="239.37" cy="538.56" r="0.68" fill="#2cc046" opacity="0.60"/><circle cx="232.41" cy="533.82" r="0.67" fill="#2cc046" opacity="0.61"/><circle cx="231.64" cy="535.01" r="0.61" fill="#2cc046" opacity="0.60"/><circle cx="233.71" cy="534.74" r="0.60" fill="#2cc046" opacity="0.53"/><circle cx="235.70" cy="534.66" r="0.45" fill="#2cc046" opacity="0.32"/><circle cx="236.29" cy="532.68" r="0.60" fill="#2cc046" opacity="0.48"/><circle cx="237.81" cy="533.49" r="0.57" fill="#2cc046" opacity="0.43"/><circle cx="233.94" cy="542.71" r="0.50" fill="#2cc046" opacity="0.52"/><circle cx="231.73" cy="533.86" r="0.42" fill="#2cc046" opacity="0.58"/><circle cx="239.08" cy="539.33" r="0.64" fill="#2cc046" opacity="0.59"/><circle cx="239.43" cy="536.14" r="0.40" fill="#2cc046" opacity="0.49"/><circle cx="230.50" cy="535.21" r="0.69" fill="#2cc046" opacity="0.54"/><circle cx="232.20" cy="540.36" r="0.59" fill="#2cc046" opacity="0.41"/><circle cx="237.45" cy="541.29" r="0.40" fill="#2cc046" opacity="0.64"/><circle cx="239.67" cy="542.49" r="0.43" fill="#2cc046" opacity="0.73"/><circle cx="237.84" cy="540.97" r="0.62" fill="#2cc046" opacity="0.42"/><circle cx="234.99" cy="534.45" r="0.42" fill="#2cc046" opacity="0.69"/><circle cx="234.12" cy="532.91" r="0.62" fill="#2cc046" opacity="0.34"/><circle cx="231.76" cy="534.59" r="0.54" fill="#2cc046" opacity="0.77"/><circle cx="235.25" cy="544.31" r="0.62" fill="#2cc046" opacity="0.31"/><circle cx="240.50" cy="538.87" r="0.65" fill="#2cc046" opacity="0.34"/><circle cx="233.41" cy="543.34" r="0.45" fill="#2cc046" opacity="0.73"/><circle cx="231.76" cy="538.71" r="0.51" fill="#2cc046" opacity="0.59"/><circle cx="230.59" cy="540.35" r="0.44" fill="#2cc046" opacity="0.70"/><circle cx="232.06" cy="542.27" r="0.59" fill="#2cc046" opacity="0.51"/><circle cx="231.28" cy="542.00" r="0.68" fill="#2cc046" opacity="0.69"/><circle cx="231.54" cy="536.68" r="0.42" fill="#2cc046" opacity="0.79"/><circle cx="233.79" cy="533.07" r="0.50" fill="#2cc046" opacity="0.60"/></g>
<ellipse cx="235.40" cy="538.40" rx="3.30" ry="3.30" fill="none" stroke="#e070f0" stroke-width="1.2" opacity="1.0" filter="url(#bl1)"/>
<circle cx="232.4" cy="554.2" r="8.8" fill="#0e3a1a" opacity="0.8" filter="url(#bl4)"/>
<ellipse cx="232.40" cy="554.20" rx="7.00" ry="7.00" fill="#12041a" opacity="1.0" filter="url(#bl1)"/>
<g filter="url(#bl3)"><circle cx="236.18" cy="546.19" r="0.50" fill="#26b03e" opacity="0.45"/><circle cx="223.42" cy="554.20" r="0.44" fill="#26b03e" opacity="0.64"/><circle cx="225.16" cy="548.87" r="0.55" fill="#26b03e" opacity="0.44"/><circle cx="232.35" cy="561.93" r="0.46" fill="#26b03e" opacity="0.59"/><circle cx="231.05" cy="545.33" r="0.36" fill="#26b03e" opacity="0.72"/><circle cx="230.92" cy="545.39" r="0.49" fill="#26b03e" opacity="0.44"/><circle cx="232.21" cy="545.39" r="0.52" fill="#26b03e" opacity="0.76"/><circle cx="225.36" cy="556.37" r="0.49" fill="#26b03e" opacity="0.70"/><circle cx="226.57" cy="560.66" r="0.58" fill="#26b03e" opacity="0.42"/><circle cx="225.61" cy="549.00" r="0.47" fill="#26b03e" opacity="0.40"/><circle cx="225.41" cy="559.38" r="0.55" fill="#26b03e" opacity="0.53"/><circle cx="229.62" cy="562.56" r="0.54" fill="#26b03e" opacity="0.42"/><circle cx="224.75" cy="549.47" r="0.57" fill="#26b03e" opacity="0.56"/><circle cx="224.15" cy="552.73" r="0.40" fill="#26b03e" opacity="0.40"/><circle cx="227.11" cy="560.98" r="0.44" fill="#26b03e" opacity="0.58"/><circle cx="224.20" cy="554.99" r="0.39" fill="#26b03e" opacity="0.32"/><circle cx="236.30" cy="547.28" r="0.38" fill="#26b03e" opacity="0.62"/><circle cx="230.50" cy="546.93" r="0.50" fill="#26b03e" opacity="0.47"/><circle cx="225.56" cy="551.83" r="0.36" fill="#26b03e" opacity="0.80"/><circle cx="232.67" cy="546.03" r="0.49" fill="#26b03e" opacity="0.43"/><circle cx="230.13" cy="546.47" r="0.59" fill="#26b03e" opacity="0.68"/><circle cx="231.12" cy="545.16" r="0.41" fill="#26b03e" opacity="0.32"/><circle cx="227.32" cy="559.80" r="0.37" fill="#26b03e" opacity="0.33"/><circle cx="224.44" cy="550.13" r="0.46" fill="#26b03e" opacity="0.77"/><circle cx="233.81" cy="547.01" r="0.50" fill="#26b03e" opacity="0.50"/><circle cx="228.52" cy="562.45" r="0.41" fill="#26b03e" opacity="0.58"/><circle cx="225.90" cy="547.81" r="0.52" fill="#26b03e" opacity="0.50"/><circle cx="224.90" cy="553.66" r="0.59" fill="#26b03e" opacity="0.80"/><circle cx="227.12" cy="559.20" r="0.41" fill="#26b03e" opacity="0.48"/><circle cx="233.90" cy="545.32" r="0.56" fill="#26b03e" opacity="0.32"/><circle cx="230.19" cy="545.87" r="0.51" fill="#26b03e" opacity="0.79"/><circle cx="230.88" cy="561.53" r="0.54" fill="#26b03e" opacity="0.77"/><circle cx="227.62" cy="548.04" r="0.50" fill="#26b03e" opacity="0.68"/><circle cx="229.44" cy="561.47" r="0.41" fill="#26b03e" opacity="0.36"/><circle cx="225.00" cy="552.75" r="0.41" fill="#26b03e" opacity="0.37"/><circle cx="227.98" cy="548.48" r="0.53" fill="#26b03e" opacity="0.40"/><circle cx="231.21" cy="563.18" r="0.41" fill="#26b03e" opacity="0.77"/><circle cx="232.72" cy="545.23" r="0.38" fill="#26b03e" opacity="0.52"/><circle cx="229.25" cy="562.69" r="0.56" fill="#26b03e" opacity="0.61"/><circle cx="224.55" cy="553.51" r="0.56" fill="#26b03e" opacity="0.54"/><circle cx="226.83" cy="549.20" r="0.41" fill="#26b03e" opacity="0.33"/><circle cx="228.23" cy="547.01" r="0.39" fill="#26b03e" opacity="0.74"/><circle cx="225.75" cy="558.69" r="0.39" fill="#26b03e" opacity="0.44"/><circle cx="231.89" cy="546.35" r="0.39" fill="#26b03e" opacity="0.55"/><circle cx="224.12" cy="557.75" r="0.38" fill="#26b03e" opacity="0.79"/><circle cx="230.54" cy="563.00" r="0.52" fill="#26b03e" opacity="0.41"/><circle cx="224.75" cy="552.81" r="0.41" fill="#26b03e" opacity="0.40"/><circle cx="223.47" cy="556.34" r="0.60" fill="#26b03e" opacity="0.76"/><circle cx="229.68" cy="561.49" r="0.57" fill="#26b03e" opacity="0.33"/><circle cx="228.81" cy="547.29" r="0.59" fill="#26b03e" opacity="0.31"/></g>
<ellipse cx="232.40" cy="554.20" rx="6.80" ry="6.80" fill="none" stroke="#d060e0" stroke-width="1.1" opacity="1.0" filter="url(#bl1)"/>
<rect x="102.80" y="502.60" width="17.20" height="1.30" fill="#ffffff" />
<rect x="102.80" y="566.50" width="17.20" height="1.30" fill="#ffffff" />
<rect x="167.80" y="502.60" width="17.20" height="1.30" fill="#ffffff" />
<rect x="167.80" y="566.50" width="17.20" height="1.30" fill="#ffffff" />
<rect x="233.80" y="502.60" width="17.20" height="1.30" fill="#ffffff" />
<rect x="233.80" y="566.50" width="17.20" height="1.30" fill="#ffffff" />
<text x="306.00" y="282.30" font-size="10.5" stroke="#000" stroke-width="0.22" font-weight="bold">e</text>
<rect x="332.00" y="281.60" width="7.40" height="7.00" fill="#b557d8" />
<text x="352.00" y="287.00" font-size="8.2" stroke="#000" stroke-width="0.22">(<tspan font-style="italic">S</tspan>)-RET</text>
<rect x="387.00" y="281.60" width="7.40" height="7.00" fill="#f5187f" />
<text x="409.00" y="287.00" font-size="8.2" stroke="#000" stroke-width="0.22">CHE</text>
<rect x="437.2" y="282.6" width="3.2" height="3.2" fill="none" stroke="#333" stroke-width="0.6"/>
<text x="456.40" y="287.00" font-size="8.2" stroke="#000" stroke-width="0.22">OD<tspan font-size="6" dy="2">600</tspan></text>
<rect x="366.00" y="444.40" width="11.50" height="5.00" fill="#f5187f" />
<rect x="366.00" y="404.40" width="11.50" height="40.00" fill="#b557d8" />
<rect x="366.00" y="365.60" width="11.50" height="35.40" fill="#b557d8" />
<rect x="394.60" y="427.00" width="11.50" height="22.40" fill="#f5187f" />
<rect x="394.60" y="404.40" width="11.50" height="22.60" fill="#b557d8" />
<rect x="394.60" y="365.60" width="11.50" height="35.40" fill="#b557d8" />
<rect x="423.40" y="422.00" width="11.50" height="27.40" fill="#f5187f" />
<rect x="423.40" y="404.40" width="11.50" height="17.60" fill="#b557d8" />
<rect x="423.40" y="337.60" width="11.50" height="63.40" fill="#b557d8" />
<path d="M354.0,401.3 V449.4 H447.0 V296.0 H354.0 V404.09999999999997" fill="none" stroke="#000" stroke-width="1"/>
<path d="M349.8,398.8 L358.2,406.6 M350.8,397.0 L359.2,404.8" stroke="#000" stroke-width="0.8" fill="none"/>
<line x1="351.70" y1="381.60" x2="354.00" y2="381.60" stroke="#000" stroke-width="1" />
<text x="349.60" y="384.50" font-size="8" stroke="#000" stroke-width="0.22" text-anchor="end" font-weight="bold">100</text>
<line x1="351.70" y1="362.70" x2="354.00" y2="362.70" stroke="#000" stroke-width="1" />
<text x="349.60" y="365.60" font-size="8" stroke="#000" stroke-width="0.22" text-anchor="end" font-weight="bold">150</text>
<line x1="351.70" y1="343.80" x2="354.00" y2="343.80" stroke="#000" stroke-width="1" />
<text x="349.60" y="346.70" font-size="8" stroke="#000" stroke-width="0.22" text-anchor="end" font-weight="bold">200</text>
<line x1="351.70" y1="324.90" x2="354.00" y2="324.90" stroke="#000" stroke-width="1" />
<text x="349.60" y="327.80" font-size="8" stroke="#000" stroke-width="0.22" text-anchor="end" font-weight="bold">250</text>
<line x1="351.70" y1="306.00" x2="354.00" y2="306.00" stroke="#000" stroke-width="1" />
<text x="349.60" y="308.90" font-size="8" stroke="#000" stroke-width="0.22" text-anchor="end" font-weight="bold">300</text>
<line x1="352.70" y1="372.15" x2="354.00" y2="372.15" stroke="#000" stroke-width="0.8" />
<line x1="352.70" y1="353.25" x2="354.00" y2="353.25" stroke="#000" stroke-width="0.8" />
<line x1="352.70" y1="334.35" x2="354.00" y2="334.35" stroke="#000" stroke-width="0.8" />
<line x1="352.70" y1="315.45" x2="354.00" y2="315.45" stroke="#000" stroke-width="0.8" />
<line x1="352.70" y1="296.55" x2="354.00" y2="296.55" stroke="#000" stroke-width="0.8" />
<line x1="351.70" y1="449.40" x2="354.00" y2="449.40" stroke="#000" stroke-width="1" />
<text x="349.60" y="452.30" font-size="8" stroke="#000" stroke-width="0.22" text-anchor="end" font-weight="bold">0</text>
<line x1="351.70" y1="427.30" x2="354.00" y2="427.30" stroke="#000" stroke-width="1" />
<text x="349.60" y="430.20" font-size="8" stroke="#000" stroke-width="0.22" text-anchor="end" font-weight="bold">20</text>
<line x1="351.70" y1="405.20" x2="354.00" y2="405.20" stroke="#000" stroke-width="1" />
<text x="349.60" y="408.10" font-size="8" stroke="#000" stroke-width="0.22" text-anchor="end" font-weight="bold">40</text>
<line x1="352.70" y1="438.35" x2="354.00" y2="438.35" stroke="#000" stroke-width="0.8" />
<line x1="352.70" y1="416.25" x2="354.00" y2="416.25" stroke="#000" stroke-width="0.8" />
<line x1="447.00" y1="449.40" x2="449.30" y2="449.40" stroke="#000" stroke-width="1" />
<text x="451.20" y="452.30" font-size="8" stroke="#000" stroke-width="0.22" font-weight="bold">5</text>
<line x1="447.00" y1="425.77" x2="449.30" y2="425.77" stroke="#000" stroke-width="1" />
<text x="451.20" y="428.67" font-size="8" stroke="#000" stroke-width="0.22" font-weight="bold">6</text>
<line x1="447.00" y1="402.14" x2="449.30" y2="402.14" stroke="#000" stroke-width="1" />
<text x="451.20" y="405.04" font-size="8" stroke="#000" stroke-width="0.22" font-weight="bold">7</text>
<line x1="447.00" y1="378.51" x2="449.30" y2="378.51" stroke="#000" stroke-width="1" />
<text x="451.20" y="381.41" font-size="8" stroke="#000" stroke-width="0.22" font-weight="bold">8</text>
<line x1="447.00" y1="354.88" x2="449.30" y2="354.88" stroke="#000" stroke-width="1" />
<text x="451.20" y="357.78" font-size="8" stroke="#000" stroke-width="0.22" font-weight="bold">9</text>
<line x1="447.00" y1="331.25" x2="449.30" y2="331.25" stroke="#000" stroke-width="1" />
<text x="451.20" y="334.15" font-size="8" stroke="#000" stroke-width="0.22" font-weight="bold">10</text>
<line x1="447.00" y1="307.62" x2="449.30" y2="307.62" stroke="#000" stroke-width="1" />
<text x="451.20" y="310.52" font-size="8" stroke="#000" stroke-width="0.22" font-weight="bold">11</text>
<line x1="447.00" y1="437.58" x2="448.30" y2="437.58" stroke="#000" stroke-width="0.8" />
<line x1="447.00" y1="413.95" x2="448.30" y2="413.95" stroke="#000" stroke-width="0.8" />
<line x1="447.00" y1="390.32" x2="448.30" y2="390.32" stroke="#000" stroke-width="0.8" />
<line x1="447.00" y1="366.69" x2="448.30" y2="366.69" stroke="#000" stroke-width="0.8" />
<line x1="447.00" y1="343.06" x2="448.30" y2="343.06" stroke="#000" stroke-width="0.8" />
<line x1="447.00" y1="319.43" x2="448.30" y2="319.43" stroke="#000" stroke-width="0.8" />
<line x1="371.70" y1="449.40" x2="371.70" y2="451.60" stroke="#000" stroke-width="1" />
<line x1="386.00" y1="449.40" x2="386.00" y2="451.60" stroke="#000" stroke-width="1" />
<line x1="400.30" y1="449.40" x2="400.30" y2="451.60" stroke="#000" stroke-width="1" />
<line x1="414.60" y1="449.40" x2="414.60" y2="451.60" stroke="#000" stroke-width="1" />
<line x1="429.10" y1="449.40" x2="429.10" y2="451.60" stroke="#000" stroke-width="1" />
<text transform="translate(325.80,374.30) rotate(-90)" font-size="9.4" stroke="#000" stroke-width="0.22" text-anchor="middle">Metabolites production (mg/L)</text>
<text transform="translate(471.50,373.50) rotate(90)" font-size="10" stroke="#000" stroke-width="0.22" text-anchor="middle">OD<tspan font-size="7" dy="2">600</tspan></text>
<text transform="translate(374.70,458.60) rotate(-43.5)" font-size="8.4" stroke="#000" stroke-width="0.22" text-anchor="end">XJ07411</text>
<text transform="translate(405.00,466.50) rotate(-43.5)" font-size="8.4" stroke="#000" stroke-width="0.22" text-anchor="end">XJ07411 + McDBOX2Δ29</text>
<text transform="translate(432.40,460.40) rotate(-43.5)" font-size="8.4" stroke="#000" stroke-width="0.22" text-anchor="end">XJ07411 + McDBOX2</text>
<circle cx="368.20" cy="365.80" r="1.70" fill="none" stroke="#555" stroke-width="0.7" />
<circle cx="371.70" cy="365.60" r="1.70" fill="none" stroke="#555" stroke-width="0.7" />
<circle cx="375.70" cy="364.40" r="1.70" fill="none" stroke="#555" stroke-width="0.7" />
<line x1="371.70" y1="364.00" x2="371.70" y2="368.50" stroke="#000" stroke-width="0.7" />
<line x1="370.50" y1="364.00" x2="372.90" y2="364.00" stroke="#000" stroke-width="0.7" />
<line x1="370.50" y1="368.50" x2="372.90" y2="368.50" stroke="#000" stroke-width="0.7" />
<line x1="370.50" y1="366.00" x2="372.90" y2="366.00" stroke="#000" stroke-width="0.8" />
<circle cx="396.80" cy="365.80" r="1.70" fill="none" stroke="#555" stroke-width="0.7" />
<circle cx="400.30" cy="365.60" r="1.70" fill="none" stroke="#555" stroke-width="0.7" />
<circle cx="404.30" cy="364.40" r="1.70" fill="none" stroke="#555" stroke-width="0.7" />
<line x1="400.30" y1="364.00" x2="400.30" y2="368.50" stroke="#000" stroke-width="0.7" />
<line x1="399.10" y1="364.00" x2="401.50" y2="364.00" stroke="#000" stroke-width="0.7" />
<line x1="399.10" y1="368.50" x2="401.50" y2="368.50" stroke="#000" stroke-width="0.7" />
<line x1="399.10" y1="366.00" x2="401.50" y2="366.00" stroke="#000" stroke-width="0.8" />
<circle cx="367.20" cy="444.80" r="1.70" fill="none" stroke="#555" stroke-width="0.7" />
<circle cx="371.20" cy="444.40" r="1.70" fill="none" stroke="#555" stroke-width="0.7" />
<circle cx="375.20" cy="445.00" r="1.70" fill="none" stroke="#555" stroke-width="0.7" />
<line x1="371.70" y1="443.60" x2="371.70" y2="445.60" stroke="#000" stroke-width="0.7" />
<line x1="370.50" y1="443.60" x2="372.90" y2="443.60" stroke="#000" stroke-width="0.7" />
<line x1="370.50" y1="445.60" x2="372.90" y2="445.60" stroke="#000" stroke-width="0.7" />
<line x1="369.90" y1="444.60" x2="373.50" y2="444.60" stroke="#000" stroke-width="1.3" />
<circle cx="396.30" cy="427.00" r="1.70" fill="none" stroke="#555" stroke-width="0.7" />
<circle cx="400.30" cy="426.80" r="1.70" fill="none" stroke="#555" stroke-width="0.7" />
<circle cx="404.30" cy="427.50" r="1.70" fill="none" stroke="#555" stroke-width="0.7" />
<line x1="400.30" y1="426.00" x2="400.30" y2="428.00" stroke="#000" stroke-width="0.7" />
<line x1="399.10" y1="426.00" x2="401.50" y2="426.00" stroke="#000" stroke-width="0.7" />
<line x1="399.10" y1="428.00" x2="401.50" y2="428.00" stroke="#000" stroke-width="0.7" />
<line x1="398.50" y1="427.00" x2="402.10" y2="427.00" stroke="#000" stroke-width="1.3" />
<circle cx="425.60" cy="421.30" r="1.70" fill="none" stroke="#555" stroke-width="0.7" />
<circle cx="429.10" cy="422.50" r="1.70" fill="none" stroke="#555" stroke-width="0.7" />
<circle cx="432.60" cy="423.00" r="1.70" fill="none" stroke="#555" stroke-width="0.7" />
<line x1="429.10" y1="419.50" x2="429.10" y2="424.50" stroke="#000" stroke-width="0.7" />
<line x1="427.90" y1="419.50" x2="430.30" y2="419.50" stroke="#000" stroke-width="0.7" />
<line x1="427.90" y1="424.50" x2="430.30" y2="424.50" stroke="#000" stroke-width="0.7" />
<line x1="427.90" y1="422.00" x2="430.30" y2="422.00" stroke="#000" stroke-width="0.8" />
<circle cx="425.60" cy="365.50" r="1.70" fill="none" stroke="#555" stroke-width="0.7" />
<circle cx="429.10" cy="366.20" r="1.70" fill="none" stroke="#555" stroke-width="0.7" />
<circle cx="433.60" cy="364.80" r="1.70" fill="none" stroke="#555" stroke-width="0.7" />
<line x1="429.10" y1="365.00" x2="429.10" y2="366.60" stroke="#000" stroke-width="0.7" />
<line x1="427.90" y1="365.00" x2="430.30" y2="365.00" stroke="#000" stroke-width="0.7" />
<line x1="427.90" y1="366.60" x2="430.30" y2="366.60" stroke="#000" stroke-width="0.7" />
<line x1="423.60" y1="365.80" x2="434.60" y2="365.80" stroke="#000" stroke-width="1.3" />
<rect x="366.20" y="333.50" width="3.0" height="3.0" fill="none" stroke="#555" stroke-width="0.7"/>
<rect x="369.50" y="334.50" width="3.0" height="3.0" fill="none" stroke="#555" stroke-width="0.7"/>
<rect x="374.50" y="337.50" width="3.0" height="3.0" fill="none" stroke="#555" stroke-width="0.7"/>
<line x1="371.70" y1="335.50" x2="371.70" y2="337.60" stroke="#000" stroke-width="0.7" />
<line x1="370.50" y1="335.50" x2="372.90" y2="335.50" stroke="#000" stroke-width="0.7" />
<line x1="370.50" y1="337.60" x2="372.90" y2="337.60" stroke="#000" stroke-width="0.7" />
<line x1="366.10" y1="336.60" x2="377.30" y2="336.60" stroke="#000" stroke-width="1.3" />
<rect x="397.50" y="336.50" width="3.0" height="3.0" fill="none" stroke="#555" stroke-width="0.7"/>
<rect x="399.50" y="345.50" width="3.0" height="3.0" fill="none" stroke="#555" stroke-width="0.7"/>
<rect x="401.50" y="339.50" width="3.0" height="3.0" fill="none" stroke="#555" stroke-width="0.7"/>
<line x1="400.30" y1="338.00" x2="400.30" y2="347.00" stroke="#000" stroke-width="0.7" />
<line x1="399.10" y1="338.00" x2="401.50" y2="338.00" stroke="#000" stroke-width="0.7" />
<line x1="399.10" y1="347.00" x2="401.50" y2="347.00" stroke="#000" stroke-width="0.7" />
<line x1="394.30" y1="342.60" x2="406.30" y2="342.60" stroke="#000" stroke-width="1.3" />
<circle cx="427.90" cy="332.00" r="1.70" fill="none" stroke="#555" stroke-width="0.7" />
<circle cx="430.90" cy="335.00" r="1.70" fill="none" stroke="#555" stroke-width="0.7" />
<circle cx="429.20" cy="344.40" r="1.70" fill="none" stroke="#555" stroke-width="0.7" />
<line x1="429.10" y1="331.00" x2="429.10" y2="344.00" stroke="#000" stroke-width="0.7" />
<line x1="427.90" y1="331.00" x2="430.30" y2="331.00" stroke="#000" stroke-width="0.7" />
<line x1="427.90" y1="344.00" x2="430.30" y2="344.00" stroke="#000" stroke-width="0.7" />
<line x1="429.09" y1="337.50" x2="429.11" y2="337.50" stroke="#000" stroke-width="0.8" />
<text x="521.00" y="281.80" font-size="10.5" stroke="#000" stroke-width="0.22" font-weight="bold">f</text>
<rect x="567.60" y="281.60" width="7.40" height="7.40" fill="#f5187f" />
<text x="589.00" y="287.70" font-size="8.2" stroke="#000" stroke-width="0.22">CHE</text>
<rect x="619.4" y="284.2" width="3.4" height="3.4" fill="none" stroke="#333" stroke-width="0.6"/>
<text x="639.00" y="287.70" font-size="8.2" stroke="#000" stroke-width="0.22">OD<tspan font-size="6" dy="2">600</tspan></text>
<rect x="563.0" y="296.4" width="94.0" height="153.20000000000005" fill="none" stroke="#000" stroke-width="1"/>
<line x1="560.70" y1="449.60" x2="563.00" y2="449.60" stroke="#000" stroke-width="1" />
<text x="560.00" y="452.60" font-size="8.6" stroke="#222" stroke-width="0.22" text-anchor="end" fill="#222">0</text>
<line x1="560.70" y1="424.07" x2="563.00" y2="424.07" stroke="#000" stroke-width="1" />
<text x="560.00" y="427.07" font-size="8.6" stroke="#222" stroke-width="0.22" text-anchor="end" fill="#222">10</text>
<line x1="560.70" y1="398.54" x2="563.00" y2="398.54" stroke="#000" stroke-width="1" />
<text x="560.00" y="401.54" font-size="8.6" stroke="#222" stroke-width="0.22" text-anchor="end" fill="#222">20</text>
<line x1="560.70" y1="373.01" x2="563.00" y2="373.01" stroke="#000" stroke-width="1" />
<text x="560.00" y="376.01" font-size="8.6" stroke="#222" stroke-width="0.22" text-anchor="end" fill="#222">30</text>
<line x1="560.70" y1="347.48" x2="563.00" y2="347.48" stroke="#000" stroke-width="1" />
<text x="560.00" y="350.48" font-size="8.6" stroke="#222" stroke-width="0.22" text-anchor="end" fill="#222">40</text>
<line x1="560.70" y1="321.95" x2="563.00" y2="321.95" stroke="#000" stroke-width="1" />
<text x="560.00" y="324.95" font-size="8.6" stroke="#222" stroke-width="0.22" text-anchor="end" fill="#222">50</text>
<line x1="560.70" y1="296.42" x2="563.00" y2="296.42" stroke="#000" stroke-width="1" />
<text x="560.00" y="299.42" font-size="8.6" stroke="#222" stroke-width="0.22" text-anchor="end" fill="#222">60</text>
<line x1="561.70" y1="436.84" x2="563.00" y2="436.84" stroke="#000" stroke-width="0.8" />
<line x1="561.70" y1="411.31" x2="563.00" y2="411.31" stroke="#000" stroke-width="0.8" />
<line x1="561.70" y1="385.78" x2="563.00" y2="385.78" stroke="#000" stroke-width="0.8" />
<line x1="561.70" y1="360.25" x2="563.00" y2="360.25" stroke="#000" stroke-width="0.8" />
<line x1="561.70" y1="334.72" x2="563.00" y2="334.72" stroke="#000" stroke-width="0.8" />
<line x1="561.70" y1="309.19" x2="563.00" y2="309.19" stroke="#000" stroke-width="0.8" />
<line x1="657.00" y1="450.20" x2="659.30" y2="450.20" stroke="#000" stroke-width="1" />
<text x="660.60" y="453.20" font-size="8.6" stroke="#222" stroke-width="0.22" fill="#222">0</text>
<line x1="657.00" y1="416.00" x2="659.30" y2="416.00" stroke="#000" stroke-width="1" />
<text x="660.60" y="419.00" font-size="8.6" stroke="#222" stroke-width="0.22" fill="#222">2</text>
<line x1="657.00" y1="381.80" x2="659.30" y2="381.80" stroke="#000" stroke-width="1" />
<text x="660.60" y="384.80" font-size="8.6" stroke="#222" stroke-width="0.22" fill="#222">4</text>
<line x1="657.00" y1="347.60" x2="659.30" y2="347.60" stroke="#000" stroke-width="1" />
<text x="660.60" y="350.60" font-size="8.6" stroke="#222" stroke-width="0.22" fill="#222">6</text>
<line x1="657.00" y1="313.40" x2="659.30" y2="313.40" stroke="#000" stroke-width="1" />
<text x="660.60" y="316.40" font-size="8.6" stroke="#222" stroke-width="0.22" fill="#222">8</text>
<line x1="657.00" y1="433.10" x2="658.30" y2="433.10" stroke="#000" stroke-width="0.8" />
<line x1="657.00" y1="398.90" x2="658.30" y2="398.90" stroke="#000" stroke-width="0.8" />
<line x1="657.00" y1="364.70" x2="658.30" y2="364.70" stroke="#000" stroke-width="0.8" />
<line x1="657.00" y1="330.50" x2="658.30" y2="330.50" stroke="#000" stroke-width="0.8" />
<line x1="583.70" y1="449.60" x2="583.70" y2="451.80" stroke="#000" stroke-width="1" />
<line x1="610.00" y1="449.60" x2="610.00" y2="451.80" stroke="#000" stroke-width="1" />
<line x1="636.50" y1="449.60" x2="636.50" y2="451.80" stroke="#000" stroke-width="1" />
<rect x="577.00" y="378.00" width="13.30" height="71.60" fill="#f5187f" />
<rect x="603.40" y="365.00" width="13.30" height="84.60" fill="#f5187f" />
<rect x="630.00" y="352.60" width="13.30" height="97.00" fill="#f5187f" />
<text transform="translate(539.80,375.50) rotate(-90)" font-size="9.6" stroke="#000" stroke-width="0.22" text-anchor="middle">CHE production (mg/L)</text>
<text transform="translate(677.50,375.00) rotate(90)" font-size="10" stroke="#000" stroke-width="0.22" text-anchor="middle">OD<tspan font-size="7" dy="2">600</tspan></text>
<line x1="583.70" y1="374.50" x2="583.70" y2="382.00" stroke="#000" stroke-width="0.7" />
<line x1="582.50" y1="374.50" x2="584.90" y2="374.50" stroke="#000" stroke-width="0.7" />
<line x1="582.50" y1="382.00" x2="584.90" y2="382.00" stroke="#000" stroke-width="0.7" />
<line x1="583.69" y1="378.00" x2="583.71" y2="378.00" stroke="#000" stroke-width="0.8" />
<circle cx="583.70" cy="373.60" r="1.70" fill="none" stroke="#555" stroke-width="0.7" />
<circle cx="582.20" cy="380.50" r="1.70" fill="none" stroke="#555" stroke-width="0.7" />
<circle cx="607.00" cy="363.60" r="1.70" fill="none" stroke="#555" stroke-width="0.7" />
<circle cx="610.00" cy="365.20" r="1.70" fill="none" stroke="#555" stroke-width="0.7" />
<circle cx="613.50" cy="366.50" r="1.70" fill="none" stroke="#555" stroke-width="0.7" />
<line x1="610.00" y1="363.60" x2="610.00" y2="366.40" stroke="#000" stroke-width="0.7" />
<line x1="608.80" y1="363.60" x2="611.20" y2="363.60" stroke="#000" stroke-width="0.7" />
<line x1="608.80" y1="366.40" x2="611.20" y2="366.40" stroke="#000" stroke-width="0.7" />
<line x1="609.99" y1="365.00" x2="610.01" y2="365.00" stroke="#000" stroke-width="0.8" />
<line x1="636.50" y1="345.50" x2="636.50" y2="360.00" stroke="#000" stroke-width="0.7" />
<line x1="635.30" y1="345.50" x2="637.70" y2="345.50" stroke="#000" stroke-width="0.7" />
<line x1="635.30" y1="360.00" x2="637.70" y2="360.00" stroke="#000" stroke-width="0.7" />
<line x1="636.49" y1="352.60" x2="636.51" y2="352.60" stroke="#000" stroke-width="0.8" />
<circle cx="636.50" cy="345.40" r="1.70" fill="none" stroke="#555" stroke-width="0.7" />
<circle cx="634.00" cy="354.00" r="1.70" fill="none" stroke="#555" stroke-width="0.7" />
<circle cx="639.50" cy="358.00" r="1.70" fill="none" stroke="#555" stroke-width="0.7" />
<path d="M583.4,357.6 V354.4 H611 V357.6" fill="none" stroke="#333" stroke-width="0.9"/>
<path d="M610,340.4 V337 H638 V340.4" fill="none" stroke="#333" stroke-width="0.9"/>
<text x="597.20" y="351.80" font-size="7.8" stroke="#222" stroke-width="0.22" text-anchor="middle" fill="#222">0.0045</text>
<text x="620.60" y="335.20" font-size="7.8" stroke="#222" stroke-width="0.22" text-anchor="middle" fill="#222">0.0370</text>
<rect x="577.70" y="319.30" width="3.0" height="3.0" fill="none" stroke="#666" stroke-width="0.7"/>
<rect x="581.10" y="321.70" width="3.0" height="3.0" fill="none" stroke="#666" stroke-width="0.7"/>
<rect x="584.70" y="318.30" width="3.0" height="3.0" fill="none" stroke="#666" stroke-width="0.7"/>
<line x1="577.50" y1="321.60" x2="589.50" y2="321.60" stroke="#666" stroke-width="0.8" />
<rect x="605.00" y="314.70" width="3.0" height="3.0" fill="none" stroke="#666" stroke-width="0.7"/>
<rect x="608.10" y="312.30" width="3.0" height="3.0" fill="none" stroke="#666" stroke-width="0.7"/>
<rect x="607.00" y="319.70" width="3.0" height="3.0" fill="none" stroke="#666" stroke-width="0.7"/>
<line x1="601.00" y1="317.00" x2="616.00" y2="317.00" stroke="#666" stroke-width="0.8" />
<rect x="631.00" y="324.70" width="3.0" height="3.0" fill="none" stroke="#666" stroke-width="0.7"/>
<rect x="634.50" y="323.50" width="3.0" height="3.0" fill="none" stroke="#666" stroke-width="0.7"/>
<rect x="637.50" y="329.50" width="3.0" height="3.0" fill="none" stroke="#666" stroke-width="0.7"/>
<rect x="633.50" y="327.50" width="3.0" height="3.0" fill="none" stroke="#666" stroke-width="0.7"/>
<line x1="629.00" y1="327.50" x2="643.00" y2="327.50" stroke="#666" stroke-width="0.8" />
<text x="561.00" y="466.00" font-size="8.4" stroke="#111" stroke-width="0.22" text-anchor="end" fill="#111">CHE pathway</text>
<text x="561.00" y="483.00" font-size="8.4" stroke="#111" stroke-width="0.22" text-anchor="end" fill="#111"><tspan font-style="italic">MCH5</tspan> + BsRibc</text>
<text x="561.00" y="499.40" font-size="8.4" stroke="#111" stroke-width="0.22" text-anchor="end" fill="#111"><tspan font-style="italic">ΔOPI1</tspan></text>
<text x="584.90" y="466.20" font-size="8.4" stroke="#111" stroke-width="0.22" text-anchor="middle" fill="#111" font-weight="bold">+</text>
<text x="611.20" y="466.20" font-size="8.4" stroke="#111" stroke-width="0.22" text-anchor="middle" fill="#111" font-weight="bold">+</text>
<text x="637.70" y="466.20" font-size="8.4" stroke="#111" stroke-width="0.22" text-anchor="middle" fill="#111" font-weight="bold">+</text>
<text x="584.90" y="483.20" font-size="8.4" stroke="#111" stroke-width="0.22" text-anchor="middle" fill="#111">-</text>
<text x="611.20" y="483.20" font-size="8.4" stroke="#111" stroke-width="0.22" text-anchor="middle" fill="#111" font-weight="bold">+</text>
<text x="637.70" y="483.20" font-size="8.4" stroke="#111" stroke-width="0.22" text-anchor="middle" fill="#111" font-weight="bold">+</text>
<text x="584.90" y="499.60" font-size="8.4" stroke="#111" stroke-width="0.22" text-anchor="middle" fill="#111">-</text>
<text x="611.20" y="499.60" font-size="8.4" stroke="#111" stroke-width="0.22" text-anchor="middle" fill="#111">-</text>
<text x="637.70" y="499.60" font-size="8.4" stroke="#111" stroke-width="0.22" text-anchor="middle" fill="#111" font-weight="bold">+</text>
<text transform="translate(588.00,508.00) rotate(-43.5)" font-size="8.4" stroke="#000" stroke-width="0.22" text-anchor="end">XJ07472</text>
<text transform="translate(614.30,508.00) rotate(-43.5)" font-size="8.4" stroke="#000" stroke-width="0.22" text-anchor="end">XJ07473</text>
<text transform="translate(640.80,508.00) rotate(-43.5)" font-size="8.4" stroke="#000" stroke-width="0.22" text-anchor="end">XJ07474</text>
</svg>
</body></html>
